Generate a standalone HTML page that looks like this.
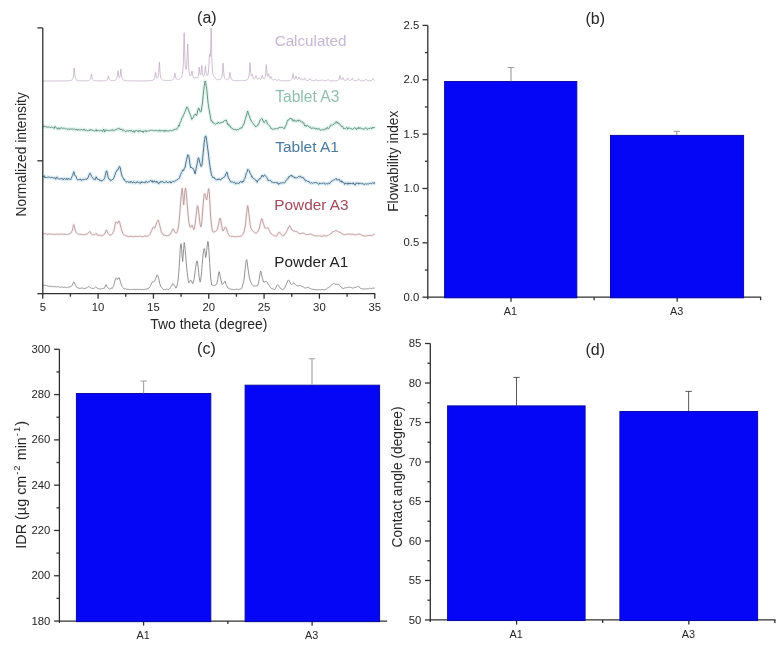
<!DOCTYPE html>
<html lang="en"><head><meta charset="utf-8"><title>Figure</title>
<style>html,body{margin:0;padding:0;background:#fff}body{width:780px;height:647px;overflow:hidden}</style>
</head><body>
<svg width="780" height="647" viewBox="0 0 780 647" style="display:block;font-family:'Liberation Sans',Arial,sans-serif">
<rect width="780" height="647" fill="#ffffff"/>
<g id="panel-a">
<path d="M42.70,125.96 L43.20,126.77 L43.70,126.70 L44.20,125.87 L44.70,126.73 L45.20,127.02 L45.70,126.52 L46.20,126.96 L46.70,127.15 L47.20,127.14 L47.70,127.07 L48.20,127.34 L48.70,126.87 L49.20,126.97 L49.70,126.99 L50.20,127.53 L50.70,127.52 L51.20,127.30 L51.70,127.05 L52.20,127.27 L52.70,127.56 L53.20,127.52 L53.70,128.30 L54.20,128.52 L54.70,126.66 L55.20,126.37 L55.70,127.44 L56.20,127.71 L56.70,128.02 L57.20,128.20 L57.70,129.20 L58.20,128.01 L58.70,127.77 L59.20,129.17 L59.70,129.01 L60.20,128.78 L60.70,128.24 L61.20,127.48 L61.70,128.21 L62.20,128.58 L62.70,127.95 L63.20,128.00 L63.70,128.45 L64.20,128.18 L64.70,128.48 L65.20,128.78 L65.70,128.84 L66.20,128.59 L66.70,129.08 L67.20,129.49 L67.70,129.30 L68.20,128.66 L68.70,129.25 L69.20,128.98 L69.70,129.46 L70.20,128.80 L70.70,129.44 L71.20,129.41 L71.70,128.65 L72.20,128.90 L72.70,129.31 L73.20,129.53 L73.70,128.98 L74.20,128.70 L74.70,129.36 L75.20,129.32 L75.70,129.57 L76.20,130.00 L76.70,128.94 L77.20,129.44 L77.70,130.33 L78.20,129.80 L78.70,129.27 L79.20,129.97 L79.70,130.07 L80.20,130.32 L80.70,129.85 L81.20,129.07 L81.70,129.55 L82.20,129.69 L82.70,130.26 L83.20,130.24 L83.70,129.24 L84.20,129.12 L84.70,130.27 L85.20,130.61 L85.70,129.93 L86.20,130.01 L86.70,130.38 L87.20,130.51 L87.70,130.74 L88.20,130.53 L88.70,130.25 L89.20,130.12 L89.70,130.76 L90.20,129.39 L90.70,129.81 L91.20,130.34 L91.70,129.66 L92.20,130.27 L92.70,130.15 L93.20,130.73 L93.70,130.56 L94.20,130.78 L94.70,131.23 L95.20,130.94 L95.70,130.16 L96.20,129.60 L96.70,131.12 L97.20,130.86 L97.70,130.21 L98.20,130.52 L98.70,130.52 L99.20,130.98 L99.70,130.79 L100.20,130.61 L100.70,130.25 L101.20,130.69 L101.70,130.18 L102.20,130.73 L102.70,131.50 L103.20,130.14 L103.70,129.06 L104.20,130.42 L104.70,132.00 L105.20,130.61 L105.70,129.77 L106.20,130.64 L106.70,130.30 L107.20,130.18 L107.70,130.32 L108.20,130.80 L108.70,130.50 L109.20,130.66 L109.70,130.57 L110.20,130.14 L110.70,130.25 L111.20,130.01 L111.70,130.32 L112.20,129.89 L112.70,129.62 L113.20,130.82 L113.70,130.50 L114.20,130.11 L114.70,130.30 L115.20,129.85 L115.70,129.59 L116.20,129.75 L116.70,129.57 L117.20,128.59 L117.70,129.12 L118.20,128.69 L118.70,128.16 L119.20,128.24 L119.70,128.69 L120.20,130.01 L120.70,129.25 L121.20,129.58 L121.70,128.88 L122.20,129.62 L122.70,130.61 L123.20,130.34 L123.70,130.02 L124.20,130.48 L124.70,130.99 L125.20,131.16 L125.70,131.89 L126.20,131.34 L126.70,130.65 L127.20,130.77 L127.70,130.93 L128.20,131.05 L128.70,131.03 L129.20,131.12 L129.70,130.25 L130.20,131.15 L130.70,130.96 L131.20,130.39 L131.70,131.19 L132.20,131.90 L132.70,131.64 L133.20,131.31 L133.70,130.71 L134.20,132.40 L134.70,132.18 L135.20,130.77 L135.70,130.56 L136.20,131.07 L136.70,130.42 L137.20,130.96 L137.70,131.00 L138.20,131.72 L138.70,131.92 L139.20,130.04 L139.70,130.68 L140.20,130.40 L140.70,131.43 L141.20,131.50 L141.70,131.50 L142.20,130.77 L142.70,131.89 L143.20,132.56 L143.70,131.05 L144.20,131.14 L144.70,130.90 L145.20,131.01 L145.70,130.51 L146.20,131.81 L146.70,131.01 L147.20,130.76 L147.70,131.28 L148.20,130.85 L148.70,130.81 L149.20,130.71 L149.70,130.83 L150.20,130.36 L150.70,130.36 L151.20,130.41 L151.70,130.23 L152.20,130.37 L152.70,130.31 L153.20,130.85 L153.70,130.62 L154.20,130.61 L154.70,130.49 L155.20,130.54 L155.70,130.25 L156.20,131.01 L156.70,130.53 L157.20,130.40 L157.70,131.03 L158.20,131.27 L158.70,130.88 L159.20,129.91 L159.70,130.81 L160.20,131.21 L160.70,130.35 L161.20,131.10 L161.70,130.80 L162.20,130.30 L162.70,130.82 L163.20,130.93 L163.70,131.07 L164.20,130.24 L164.70,131.58 L165.20,131.06 L165.70,130.10 L166.20,130.99 L166.70,130.92 L167.20,131.05 L167.70,130.83 L168.20,130.81 L168.70,130.99 L169.20,130.52 L169.70,131.00 L170.20,130.67 L170.70,130.20 L171.20,130.54 L171.70,130.87 L172.20,130.55 L172.70,130.03 L173.20,130.55 L173.70,129.53 L174.20,129.27 L174.70,129.78 L175.20,129.09 L175.70,129.27 L176.20,129.25 L176.70,129.43 L177.20,128.37 L177.70,127.54 L178.20,127.22 L178.70,125.02 L179.20,126.18 L179.70,124.35 L180.20,122.38 L180.70,121.89 L181.20,120.48 L181.70,118.24 L182.20,117.95 L182.70,117.43 L183.20,115.72 L183.70,114.46 L184.20,113.82 L184.70,112.20 L185.20,111.33 L185.70,110.16 L186.20,108.49 L186.70,107.10 L187.20,107.21 L187.70,107.53 L188.20,109.36 L188.70,110.66 L189.20,112.20 L189.70,113.19 L190.20,114.50 L190.70,115.50 L191.20,117.40 L191.70,119.30 L192.20,118.99 L192.70,118.16 L193.20,117.42 L193.70,116.27 L194.20,115.22 L194.70,114.66 L195.20,113.96 L195.70,114.99 L196.20,115.63 L196.70,115.25 L197.20,113.60 L197.70,110.48 L198.20,109.07 L198.70,108.07 L199.20,108.51 L199.70,110.16 L200.20,111.78 L200.70,111.95 L201.20,111.44 L201.70,107.77 L202.20,105.10 L202.70,100.84 L203.20,95.21 L203.70,90.22 L204.20,86.24 L204.70,82.58 L205.20,80.99 L205.70,82.51 L206.20,85.85 L206.70,89.05 L207.20,94.05 L207.70,99.44 L208.20,103.68 L208.70,107.39 L209.20,109.66 L209.70,113.03 L210.20,115.63 L210.70,118.35 L211.20,121.13 L211.70,120.51 L212.20,121.72 L212.70,122.12 L213.20,123.13 L213.70,122.83 L214.20,123.07 L214.70,123.76 L215.20,124.25 L215.70,124.14 L216.20,123.60 L216.70,123.35 L217.20,123.79 L217.70,123.29 L218.20,122.02 L218.70,122.87 L219.20,123.14 L219.70,123.27 L220.20,122.74 L220.70,123.05 L221.20,122.27 L221.70,122.54 L222.20,122.10 L222.70,122.19 L223.20,122.31 L223.70,121.21 L224.20,120.79 L224.70,120.52 L225.20,120.75 L225.70,120.59 L226.20,119.90 L226.70,121.25 L227.20,122.87 L227.70,124.70 L228.20,123.87 L228.70,124.38 L229.20,126.21 L229.70,125.86 L230.20,125.93 L230.70,127.25 L231.20,128.18 L231.70,127.77 L232.20,128.35 L232.70,128.68 L233.20,129.57 L233.70,129.33 L234.20,129.73 L234.70,129.15 L235.20,129.25 L235.70,129.50 L236.20,130.15 L236.70,130.09 L237.20,129.25 L237.70,129.61 L238.20,129.84 L238.70,129.29 L239.20,128.90 L239.70,128.75 L240.20,127.84 L240.70,128.27 L241.20,128.38 L241.70,127.47 L242.20,127.60 L242.70,126.20 L243.20,125.12 L243.70,124.00 L244.20,123.78 L244.70,120.97 L245.20,119.47 L245.70,118.11 L246.20,116.16 L246.70,115.00 L247.20,112.73 L247.70,111.06 L248.20,112.97 L248.70,114.08 L249.20,115.79 L249.70,116.79 L250.20,118.82 L250.70,120.19 L251.20,120.30 L251.70,121.63 L252.20,122.35 L252.70,122.79 L253.20,123.51 L253.70,124.05 L254.20,125.01 L254.70,125.68 L255.20,125.91 L255.70,126.86 L256.20,126.36 L256.70,126.14 L257.20,125.76 L257.70,125.55 L258.20,123.98 L258.70,123.97 L259.20,122.73 L259.70,121.20 L260.20,119.88 L260.70,119.57 L261.20,119.04 L261.70,118.33 L262.20,118.72 L262.70,120.00 L263.20,121.01 L263.70,122.39 L264.20,122.77 L264.70,122.13 L265.20,121.23 L265.70,120.34 L266.20,120.40 L266.70,121.51 L267.20,123.31 L267.70,124.12 L268.20,124.36 L268.70,125.03 L269.20,125.53 L269.70,125.94 L270.20,126.79 L270.70,127.60 L271.20,128.84 L271.70,128.44 L272.20,128.86 L272.70,129.43 L273.20,128.77 L273.70,129.28 L274.20,129.22 L274.70,128.54 L275.20,128.72 L275.70,128.78 L276.20,128.64 L276.70,128.63 L277.20,128.83 L277.70,129.05 L278.20,128.33 L278.70,128.22 L279.20,127.26 L279.70,127.44 L280.20,127.63 L280.70,127.25 L281.20,127.19 L281.70,127.51 L282.20,127.18 L282.70,127.41 L283.20,128.09 L283.70,128.60 L284.20,128.20 L284.70,128.46 L285.20,126.59 L285.70,125.56 L286.20,124.96 L286.70,123.25 L287.20,121.51 L287.70,120.21 L288.20,120.07 L288.70,120.13 L289.20,119.31 L289.70,118.71 L290.20,118.37 L290.70,118.97 L291.20,118.22 L291.70,119.33 L292.20,120.10 L292.70,119.60 L293.20,121.29 L293.70,120.40 L294.20,120.00 L294.70,120.12 L295.20,121.31 L295.70,120.77 L296.20,121.09 L296.70,121.28 L297.20,121.00 L297.70,120.06 L298.20,120.04 L298.70,121.32 L299.20,120.36 L299.70,120.12 L300.20,120.71 L300.70,121.55 L301.20,121.70 L301.70,122.10 L302.20,121.56 L302.70,122.54 L303.20,123.23 L303.70,122.66 L304.20,124.42 L304.70,126.05 L305.20,125.23 L305.70,125.48 L306.20,126.61 L306.70,125.68 L307.20,125.05 L307.70,125.48 L308.20,126.15 L308.70,126.44 L309.20,127.18 L309.70,127.38 L310.20,126.68 L310.70,127.41 L311.20,128.53 L311.70,128.56 L312.20,128.42 L312.70,127.99 L313.20,128.37 L313.70,127.69 L314.20,128.27 L314.70,128.31 L315.20,128.88 L315.70,128.93 L316.20,128.16 L316.70,128.59 L317.20,129.52 L317.70,128.69 L318.20,128.63 L318.70,128.76 L319.20,128.46 L319.70,129.63 L320.20,130.36 L320.70,130.23 L321.20,129.88 L321.70,129.62 L322.20,129.67 L322.70,129.18 L323.20,129.70 L323.70,129.98 L324.20,129.82 L324.70,128.92 L325.20,128.77 L325.70,128.62 L326.20,129.40 L326.70,128.82 L327.20,127.29 L327.70,127.82 L328.20,128.80 L328.70,128.27 L329.20,127.88 L329.70,127.21 L330.20,125.70 L330.70,125.01 L331.20,124.93 L331.70,125.21 L332.20,125.27 L332.70,125.20 L333.20,124.44 L333.70,124.54 L334.20,123.83 L334.70,123.04 L335.20,123.47 L335.70,122.74 L336.20,121.47 L336.70,122.07 L337.20,123.22 L337.70,122.13 L338.20,123.11 L338.70,123.94 L339.20,123.71 L339.70,123.78 L340.20,124.60 L340.70,125.12 L341.20,126.41 L341.70,126.74 L342.20,126.00 L342.70,126.36 L343.20,127.63 L343.70,128.82 L344.20,128.49 L344.70,128.24 L345.20,129.05 L345.70,128.47 L346.20,127.99 L346.70,127.43 L347.20,127.69 L347.70,129.25 L348.20,128.02 L348.70,128.04 L349.20,127.64 L349.70,128.14 L350.20,128.85 L350.70,128.44 L351.20,128.71 L351.70,128.91 L352.20,128.77 L352.70,129.33 L353.20,129.10 L353.70,128.34 L354.20,127.89 L354.70,127.69 L355.20,128.27 L355.70,128.09 L356.20,129.41 L356.70,129.54 L357.20,128.30 L357.70,127.81 L358.20,128.78 L358.70,127.40 L359.20,127.45 L359.70,128.52 L360.20,127.98 L360.70,127.94 L361.20,128.20 L361.70,128.82 L362.20,128.82 L362.70,128.90 L363.20,129.10 L363.70,128.91 L364.20,129.38 L364.70,128.72 L365.20,128.04 L365.70,127.76 L366.20,127.80 L366.70,128.38 L367.20,129.40 L367.70,129.29 L368.20,128.72 L368.70,128.29 L369.20,128.40 L369.70,128.50 L370.20,128.36 L370.70,127.81 L371.20,128.05 L371.70,128.91 L372.20,127.54 L372.70,127.79 L373.20,127.15 L373.70,127.85 L374.20,127.75 L374.70,126.81" fill="none" stroke="#d3f1e6" stroke-width="3.4" stroke-linejoin="round" opacity="0.7"/>
<path d="M42.70,176.77 L43.20,176.70 L43.70,176.64 L44.20,175.67 L44.70,177.41 L45.20,177.96 L45.70,177.13 L46.20,177.42 L46.70,177.43 L47.20,176.95 L47.70,177.59 L48.20,177.29 L48.70,177.06 L49.20,176.87 L49.70,177.44 L50.20,177.46 L50.70,177.72 L51.20,177.33 L51.70,177.52 L52.20,177.22 L52.70,177.95 L53.20,178.04 L53.70,178.05 L54.20,178.19 L54.70,177.56 L55.20,178.24 L55.70,179.31 L56.20,177.78 L56.70,177.06 L57.20,177.21 L57.70,178.49 L58.20,178.65 L58.70,179.04 L59.20,179.11 L59.70,178.84 L60.20,178.83 L60.70,178.67 L61.20,179.16 L61.70,178.42 L62.20,178.42 L62.70,178.94 L63.20,179.89 L63.70,178.94 L64.20,178.29 L64.70,178.50 L65.20,179.37 L65.70,179.07 L66.20,179.59 L66.70,178.28 L67.20,179.11 L67.70,179.63 L68.20,178.34 L68.70,178.58 L69.20,179.36 L69.70,178.93 L70.20,179.07 L70.70,179.68 L71.20,178.49 L71.70,177.23 L72.20,176.20 L72.70,175.53 L73.20,173.27 L73.70,171.72 L74.20,172.39 L74.70,174.76 L75.20,175.88 L75.70,176.22 L76.20,176.46 L76.70,178.72 L77.20,179.33 L77.70,180.04 L78.20,179.72 L78.70,179.18 L79.20,179.73 L79.70,179.75 L80.20,179.06 L80.70,179.00 L81.20,180.40 L81.70,180.22 L82.20,179.96 L82.70,179.62 L83.20,179.26 L83.70,179.96 L84.20,179.76 L84.70,179.21 L85.20,179.36 L85.70,178.96 L86.20,179.11 L86.70,179.46 L87.20,178.27 L87.70,178.53 L88.20,177.10 L88.70,176.05 L89.20,174.65 L89.70,173.43 L90.20,173.21 L90.70,174.02 L91.20,175.37 L91.70,176.49 L92.20,177.29 L92.70,177.66 L93.20,178.66 L93.70,179.33 L94.20,179.58 L94.70,179.29 L95.20,179.74 L95.70,178.11 L96.20,176.74 L96.70,178.25 L97.20,178.25 L97.70,179.37 L98.20,179.26 L98.70,179.94 L99.20,179.36 L99.70,180.52 L100.20,180.60 L100.70,179.97 L101.20,181.11 L101.70,181.16 L102.20,180.57 L102.70,179.98 L103.20,180.05 L103.70,179.49 L104.20,178.85 L104.70,177.81 L105.20,175.71 L105.70,173.30 L106.20,171.44 L106.70,170.82 L107.20,172.75 L107.70,175.39 L108.20,177.26 L108.70,178.77 L109.20,178.70 L109.70,179.54 L110.20,179.55 L110.70,180.73 L111.20,180.28 L111.70,180.20 L112.20,179.63 L112.70,179.35 L113.20,179.30 L113.70,178.20 L114.20,177.28 L114.70,175.30 L115.20,174.43 L115.70,172.32 L116.20,171.80 L116.70,170.50 L117.20,170.58 L117.70,169.47 L118.20,169.50 L118.70,168.00 L119.20,166.63 L119.70,166.56 L120.20,167.82 L120.70,170.37 L121.20,172.93 L121.70,174.85 L122.20,176.35 L122.70,177.14 L123.20,178.16 L123.70,179.30 L124.20,179.04 L124.70,180.54 L125.20,180.95 L125.70,181.03 L126.20,181.88 L126.70,182.19 L127.20,182.08 L127.70,181.50 L128.20,181.98 L128.70,182.31 L129.20,181.75 L129.70,182.51 L130.20,182.67 L130.70,181.36 L131.20,181.95 L131.70,181.70 L132.20,182.65 L132.70,182.99 L133.20,181.98 L133.70,181.72 L134.20,182.27 L134.70,182.30 L135.20,183.11 L135.70,183.08 L136.20,182.41 L136.70,182.63 L137.20,181.50 L137.70,182.15 L138.20,182.90 L138.70,182.48 L139.20,182.01 L139.70,182.54 L140.20,183.49 L140.70,182.89 L141.20,181.88 L141.70,182.90 L142.20,181.75 L142.70,182.28 L143.20,182.21 L143.70,182.75 L144.20,182.16 L144.70,182.89 L145.20,182.81 L145.70,181.56 L146.20,180.97 L146.70,181.67 L147.20,182.70 L147.70,182.33 L148.20,181.94 L148.70,181.63 L149.20,181.80 L149.70,181.49 L150.20,181.06 L150.70,180.20 L151.20,181.01 L151.70,181.68 L152.20,180.63 L152.70,182.17 L153.20,182.33 L153.70,181.54 L154.20,180.69 L154.70,181.78 L155.20,182.32 L155.70,181.80 L156.20,181.03 L156.70,182.31 L157.20,182.08 L157.70,181.83 L158.20,183.54 L158.70,183.87 L159.20,183.16 L159.70,182.24 L160.20,182.53 L160.70,181.31 L161.20,181.93 L161.70,181.99 L162.20,181.57 L162.70,181.33 L163.20,182.33 L163.70,182.54 L164.20,182.49 L164.70,182.85 L165.20,182.15 L165.70,181.61 L166.20,181.26 L166.70,181.86 L167.20,182.69 L167.70,182.45 L168.20,182.65 L168.70,181.88 L169.20,181.86 L169.70,181.83 L170.20,181.51 L170.70,182.95 L171.20,183.04 L171.70,182.01 L172.20,181.65 L172.70,181.95 L173.20,181.32 L173.70,181.88 L174.20,181.27 L174.70,181.24 L175.20,180.95 L175.70,180.89 L176.20,180.32 L176.70,179.73 L177.20,179.62 L177.70,179.47 L178.20,179.12 L178.70,178.56 L179.20,178.40 L179.70,177.31 L180.20,175.61 L180.70,174.65 L181.20,172.81 L181.70,172.38 L182.20,171.48 L182.70,169.88 L183.20,170.27 L183.70,170.49 L184.20,168.43 L184.70,168.13 L185.20,167.04 L185.70,163.92 L186.20,161.53 L186.70,159.27 L187.20,157.12 L187.70,154.87 L188.20,154.97 L188.70,155.43 L189.20,158.86 L189.70,161.90 L190.20,165.76 L190.70,167.87 L191.20,167.24 L191.70,167.44 L192.20,168.17 L192.70,168.68 L193.20,168.47 L193.70,169.56 L194.20,170.81 L194.70,173.28 L195.20,173.79 L195.70,171.11 L196.20,168.37 L196.70,165.53 L197.20,163.68 L197.70,160.59 L198.20,157.96 L198.70,157.89 L199.20,159.85 L199.70,162.04 L200.20,163.63 L200.70,165.68 L201.20,166.57 L201.70,165.92 L202.20,163.48 L202.70,157.78 L203.20,152.81 L203.70,147.68 L204.20,142.59 L204.70,139.52 L205.20,136.28 L205.70,135.98 L206.20,137.16 L206.70,140.55 L207.20,144.58 L207.70,148.56 L208.20,152.02 L208.70,156.35 L209.20,161.09 L209.70,164.46 L210.20,167.79 L210.70,170.52 L211.20,173.50 L211.70,175.42 L212.20,176.16 L212.70,177.77 L213.20,177.75 L213.70,177.42 L214.20,177.32 L214.70,178.78 L215.20,178.86 L215.70,179.28 L216.20,179.32 L216.70,179.89 L217.20,180.02 L217.70,179.18 L218.20,179.23 L218.70,179.79 L219.20,178.80 L219.70,179.66 L220.20,180.02 L220.70,179.76 L221.20,178.99 L221.70,178.85 L222.20,178.04 L222.70,178.11 L223.20,177.77 L223.70,177.69 L224.20,177.03 L224.70,176.40 L225.20,176.02 L225.70,173.96 L226.20,173.55 L226.70,172.22 L227.20,172.53 L227.70,175.20 L228.20,177.18 L228.70,178.63 L229.20,178.84 L229.70,180.12 L230.20,180.99 L230.70,181.91 L231.20,181.75 L231.70,182.07 L232.20,181.68 L232.70,181.99 L233.20,182.21 L233.70,182.89 L234.20,182.41 L234.70,182.25 L235.20,183.06 L235.70,183.99 L236.20,183.55 L236.70,183.21 L237.20,182.83 L237.70,183.34 L238.20,183.27 L238.70,183.66 L239.20,183.09 L239.70,182.06 L240.20,181.88 L240.70,181.65 L241.20,181.32 L241.70,182.40 L242.20,182.51 L242.70,181.19 L243.20,182.00 L243.70,181.19 L244.20,179.34 L244.70,178.66 L245.20,177.54 L245.70,175.72 L246.20,173.36 L246.70,172.57 L247.20,171.91 L247.70,169.42 L248.20,169.62 L248.70,170.23 L249.20,170.71 L249.70,172.22 L250.20,173.31 L250.70,174.02 L251.20,175.14 L251.70,176.92 L252.20,176.62 L252.70,177.60 L253.20,178.54 L253.70,178.61 L254.20,179.01 L254.70,179.00 L255.20,179.48 L255.70,180.38 L256.20,180.98 L256.70,180.59 L257.20,182.33 L257.70,181.07 L258.20,180.26 L258.70,179.67 L259.20,178.92 L259.70,179.17 L260.20,178.06 L260.70,177.91 L261.20,177.44 L261.70,175.67 L262.20,175.83 L262.70,175.28 L263.20,176.71 L263.70,175.97 L264.20,175.27 L264.70,174.91 L265.20,175.39 L265.70,176.39 L266.20,176.93 L266.70,177.34 L267.20,178.14 L267.70,179.13 L268.20,180.71 L268.70,180.01 L269.20,180.30 L269.70,180.60 L270.20,180.49 L270.70,180.71 L271.20,181.13 L271.70,182.18 L272.20,182.18 L272.70,181.94 L273.20,182.53 L273.70,182.68 L274.20,182.44 L274.70,182.71 L275.20,182.30 L275.70,182.85 L276.20,183.12 L276.70,182.70 L277.20,182.17 L277.70,183.42 L278.20,183.29 L278.70,184.51 L279.20,183.27 L279.70,183.29 L280.20,182.95 L280.70,183.02 L281.20,183.42 L281.70,182.66 L282.20,182.62 L282.70,182.81 L283.20,182.74 L283.70,182.86 L284.20,183.04 L284.70,182.89 L285.20,182.24 L285.70,181.31 L286.20,180.18 L286.70,179.57 L287.20,179.14 L287.70,179.10 L288.20,178.10 L288.70,176.81 L289.20,177.09 L289.70,176.29 L290.20,175.65 L290.70,175.74 L291.20,176.25 L291.70,175.15 L292.20,175.51 L292.70,176.72 L293.20,176.96 L293.70,176.74 L294.20,176.91 L294.70,178.03 L295.20,177.59 L295.70,177.88 L296.20,178.20 L296.70,177.63 L297.20,177.82 L297.70,177.39 L298.20,176.88 L298.70,176.33 L299.20,177.05 L299.70,176.78 L300.20,176.47 L300.70,176.20 L301.20,177.63 L301.70,177.79 L302.20,177.45 L302.70,177.46 L303.20,177.42 L303.70,178.61 L304.20,179.45 L304.70,179.10 L305.20,180.52 L305.70,181.24 L306.20,180.58 L306.70,180.66 L307.20,181.02 L307.70,181.52 L308.20,181.65 L308.70,181.00 L309.20,182.40 L309.70,182.57 L310.20,182.95 L310.70,183.26 L311.20,182.65 L311.70,182.75 L312.20,183.17 L312.70,183.36 L313.20,182.99 L313.70,182.65 L314.20,182.94 L314.70,182.71 L315.20,182.72 L315.70,182.09 L316.20,182.91 L316.70,182.83 L317.20,182.89 L317.70,183.29 L318.20,183.62 L318.70,184.53 L319.20,184.04 L319.70,182.93 L320.20,183.42 L320.70,183.40 L321.20,183.78 L321.70,183.46 L322.20,183.26 L322.70,183.37 L323.20,183.37 L323.70,182.75 L324.20,183.10 L324.70,183.66 L325.20,184.35 L325.70,183.75 L326.20,183.29 L326.70,183.60 L327.20,183.61 L327.70,183.99 L328.20,183.57 L328.70,182.95 L329.20,183.40 L329.70,183.66 L330.20,182.56 L330.70,182.32 L331.20,181.30 L331.70,181.27 L332.20,180.88 L332.70,180.70 L333.20,180.32 L333.70,180.09 L334.20,179.82 L334.70,179.77 L335.20,179.44 L335.70,178.80 L336.20,178.25 L336.70,179.49 L337.20,180.29 L337.70,179.65 L338.20,180.05 L338.70,179.44 L339.20,179.24 L339.70,180.13 L340.20,181.51 L340.70,180.86 L341.20,180.72 L341.70,182.24 L342.20,181.25 L342.70,182.09 L343.20,182.79 L343.70,182.67 L344.20,182.94 L344.70,184.42 L345.20,183.20 L345.70,183.03 L346.20,183.38 L346.70,183.29 L347.20,182.96 L347.70,184.33 L348.20,184.22 L348.70,182.95 L349.20,183.06 L349.70,183.80 L350.20,184.00 L350.70,183.04 L351.20,183.31 L351.70,183.72 L352.20,183.82 L352.70,183.82 L353.20,182.67 L353.70,184.03 L354.20,183.92 L354.70,184.37 L355.20,185.20 L355.70,183.89 L356.20,182.75 L356.70,183.60 L357.20,183.53 L357.70,183.24 L358.20,182.95 L358.70,184.25 L359.20,183.79 L359.70,182.95 L360.20,183.29 L360.70,183.17 L361.20,183.72 L361.70,183.72 L362.20,183.29 L362.70,183.99 L363.20,183.69 L363.70,184.12 L364.20,184.66 L364.70,183.95 L365.20,183.47 L365.70,183.83 L366.20,184.33 L366.70,184.01 L367.20,183.88 L367.70,183.81 L368.20,183.93 L368.70,184.12 L369.20,183.47 L369.70,183.26 L370.20,183.51 L370.70,183.19 L371.20,183.38 L371.70,183.66 L372.20,183.37 L372.70,182.86 L373.20,182.53 L373.70,183.62 L374.20,183.54 L374.70,182.22" fill="none" stroke="#cfe8f6" stroke-width="3.4" stroke-linejoin="round" opacity="0.75"/>
<path d="M42.70,234.24 L43.20,233.66 L43.70,233.90 L44.20,233.95 L44.70,233.90 L45.20,233.97 L45.70,233.64 L46.20,233.86 L46.70,233.88 L47.20,234.68 L47.70,234.40 L48.20,234.05 L48.70,234.03 L49.20,233.96 L49.70,233.86 L50.20,233.97 L50.70,234.21 L51.20,234.14 L51.70,234.33 L52.20,234.20 L52.70,234.16 L53.20,234.49 L53.70,234.42 L54.20,234.13 L54.70,234.12 L55.20,234.30 L55.70,234.64 L56.20,234.32 L56.70,234.15 L57.20,234.41 L57.70,234.14 L58.20,234.11 L58.70,234.40 L59.20,234.44 L59.70,234.32 L60.20,234.40 L60.70,233.76 L61.20,234.25 L61.70,234.17 L62.20,233.87 L62.70,234.21 L63.20,234.45 L63.70,234.26 L64.20,234.04 L64.70,234.22 L65.20,234.29 L65.70,234.58 L66.20,234.56 L66.70,234.38 L67.20,234.49 L67.70,234.26 L68.20,233.95 L68.70,234.11 L69.20,234.14 L69.70,233.88 L70.20,233.55 L70.70,233.29 L71.20,232.14 L71.70,231.68 L72.20,230.87 L72.70,228.73 L73.20,226.31 L73.70,224.57 L74.20,225.62 L74.70,227.63 L75.20,229.89 L75.70,231.43 L76.20,232.62 L76.70,232.78 L77.20,233.37 L77.70,233.89 L78.20,233.91 L78.70,234.39 L79.20,234.12 L79.70,234.29 L80.20,234.21 L80.70,234.64 L81.20,234.59 L81.70,234.42 L82.20,234.13 L82.70,234.70 L83.20,234.78 L83.70,234.69 L84.20,234.76 L84.70,234.62 L85.20,234.34 L85.70,234.20 L86.20,234.15 L86.70,234.43 L87.20,233.78 L87.70,233.40 L88.20,233.16 L88.70,232.77 L89.20,232.19 L89.70,231.50 L90.20,231.64 L90.70,232.73 L91.20,233.74 L91.70,234.24 L92.20,234.55 L92.70,234.70 L93.20,234.83 L93.70,234.72 L94.20,234.78 L94.70,234.40 L95.20,234.24 L95.70,233.72 L96.20,233.50 L96.70,233.82 L97.20,234.86 L97.70,235.22 L98.20,235.42 L98.70,234.97 L99.20,235.23 L99.70,235.43 L100.20,235.66 L100.70,235.18 L101.20,235.62 L101.70,235.84 L102.20,235.32 L102.70,235.14 L103.20,235.11 L103.70,234.93 L104.20,234.51 L104.70,234.09 L105.20,232.94 L105.70,231.53 L106.20,230.10 L106.70,230.21 L107.20,231.39 L107.70,232.95 L108.20,233.31 L108.70,233.95 L109.20,234.44 L109.70,235.18 L110.20,235.24 L110.70,234.91 L111.20,234.65 L111.70,234.61 L112.20,234.14 L112.70,233.24 L113.20,232.33 L113.70,231.43 L114.20,229.43 L114.70,226.75 L115.20,224.22 L115.70,222.54 L116.20,221.84 L116.70,222.43 L117.20,223.22 L117.70,223.33 L118.20,222.25 L118.70,221.17 L119.20,221.01 L119.70,222.53 L120.20,224.49 L120.70,226.28 L121.20,228.52 L121.70,230.47 L122.20,231.78 L122.70,233.00 L123.20,233.65 L123.70,234.25 L124.20,234.95 L124.70,235.31 L125.20,235.77 L125.70,235.33 L126.20,235.82 L126.70,235.95 L127.20,236.09 L127.70,236.36 L128.20,236.49 L128.70,236.52 L129.20,236.36 L129.70,236.60 L130.20,236.36 L130.70,236.25 L131.20,236.46 L131.70,236.28 L132.20,236.73 L132.70,236.73 L133.20,236.88 L133.70,236.54 L134.20,236.30 L134.70,236.38 L135.20,236.55 L135.70,236.33 L136.20,236.42 L136.70,236.42 L137.20,236.72 L137.70,236.40 L138.20,236.56 L138.70,236.35 L139.20,236.15 L139.70,236.18 L140.20,236.10 L140.70,236.32 L141.20,236.60 L141.70,236.50 L142.20,236.51 L142.70,236.75 L143.20,236.55 L143.70,236.41 L144.20,236.30 L144.70,235.99 L145.20,236.34 L145.70,236.02 L146.20,236.28 L146.70,236.28 L147.20,236.35 L147.70,236.05 L148.20,235.61 L148.70,235.56 L149.20,235.17 L149.70,234.55 L150.20,233.72 L150.70,232.68 L151.20,231.64 L151.70,230.43 L152.20,229.19 L152.70,227.69 L153.20,227.32 L153.70,227.30 L154.20,227.82 L154.70,228.14 L155.20,227.05 L155.70,225.75 L156.20,224.11 L156.70,222.56 L157.20,221.61 L157.70,220.56 L158.20,219.95 L158.70,221.27 L159.20,223.40 L159.70,225.36 L160.20,227.11 L160.70,229.48 L161.20,231.45 L161.70,232.21 L162.20,233.06 L162.70,233.99 L163.20,234.55 L163.70,235.38 L164.20,235.43 L164.70,235.17 L165.20,235.21 L165.70,235.44 L166.20,236.02 L166.70,235.74 L167.20,235.61 L167.70,235.65 L168.20,235.46 L168.70,235.71 L169.20,235.12 L169.70,234.88 L170.20,234.51 L170.70,233.66 L171.20,232.17 L171.70,231.56 L172.20,230.27 L172.70,229.20 L173.20,228.90 L173.70,229.65 L174.20,230.98 L174.70,231.89 L175.20,232.51 L175.70,233.09 L176.20,233.24 L176.70,232.65 L177.20,231.72 L177.70,230.38 L178.20,227.96 L178.70,224.86 L179.20,220.63 L179.70,214.45 L180.20,207.95 L180.70,201.39 L181.20,195.30 L181.70,190.71 L182.20,188.26 L182.70,192.22 L183.20,199.20 L183.70,204.93 L184.20,199.99 L184.70,194.13 L185.20,188.65 L185.70,188.18 L186.20,192.08 L186.70,197.00 L187.20,204.01 L187.70,210.51 L188.20,215.84 L188.70,220.85 L189.20,223.57 L189.70,226.39 L190.20,227.33 L190.70,227.07 L191.20,226.38 L191.70,225.35 L192.20,225.12 L192.70,226.20 L193.20,228.17 L193.70,229.58 L194.20,229.16 L194.70,226.62 L195.20,223.31 L195.70,219.04 L196.20,214.73 L196.70,210.51 L197.20,206.72 L197.70,205.68 L198.20,208.11 L198.70,212.00 L199.20,216.23 L199.70,221.28 L200.20,224.76 L200.70,226.87 L201.20,226.36 L201.70,222.59 L202.20,217.93 L202.70,210.61 L203.20,203.90 L203.70,198.38 L204.20,194.05 L204.70,193.54 L205.20,194.88 L205.70,196.56 L206.20,199.11 L206.70,199.91 L207.20,197.44 L207.70,193.87 L208.20,190.41 L208.70,188.67 L209.20,191.63 L209.70,199.36 L210.20,208.33 L210.70,217.15 L211.20,222.04 L211.70,226.72 L212.20,229.36 L212.70,231.68 L213.20,232.29 L213.70,231.90 L214.20,232.13 L214.70,231.50 L215.20,231.24 L215.70,231.33 L216.20,230.87 L216.70,230.32 L217.20,229.66 L217.70,228.16 L218.20,225.74 L218.70,223.59 L219.20,220.72 L219.70,218.70 L220.20,218.05 L220.70,219.79 L221.20,223.03 L221.70,225.44 L222.20,228.23 L222.70,230.40 L223.20,230.97 L223.70,230.01 L224.20,229.05 L224.70,227.79 L225.20,227.05 L225.70,227.24 L226.20,227.77 L226.70,229.32 L227.20,230.94 L227.70,232.52 L228.20,233.86 L228.70,234.60 L229.20,235.44 L229.70,235.74 L230.20,236.01 L230.70,235.94 L231.20,236.45 L231.70,236.48 L232.20,236.34 L232.70,236.27 L233.20,236.32 L233.70,236.58 L234.20,236.46 L234.70,236.65 L235.20,236.67 L235.70,236.79 L236.20,236.76 L236.70,236.55 L237.20,236.11 L237.70,236.41 L238.20,236.68 L238.70,236.57 L239.20,236.54 L239.70,236.28 L240.20,236.10 L240.70,235.85 L241.20,236.09 L241.70,235.83 L242.20,235.37 L242.70,234.65 L243.20,233.75 L243.70,232.72 L244.20,231.02 L244.70,228.54 L245.20,226.10 L245.70,222.53 L246.20,217.16 L246.70,212.39 L247.20,207.98 L247.70,205.60 L248.20,207.79 L248.70,211.82 L249.20,216.09 L249.70,220.50 L250.20,224.97 L250.70,227.15 L251.20,228.59 L251.70,229.75 L252.20,230.18 L252.70,230.77 L253.20,231.38 L253.70,231.84 L254.20,232.05 L254.70,232.43 L255.20,232.99 L255.70,233.31 L256.20,233.09 L256.70,232.71 L257.20,232.24 L257.70,231.84 L258.20,230.85 L258.70,229.78 L259.20,228.92 L259.70,226.76 L260.20,224.13 L260.70,222.18 L261.20,220.25 L261.70,218.58 L262.20,219.12 L262.70,220.71 L263.20,222.97 L263.70,224.30 L264.20,225.81 L264.70,227.57 L265.20,228.29 L265.70,228.18 L266.20,228.05 L266.70,228.04 L267.20,227.81 L267.70,227.69 L268.20,228.37 L268.70,229.17 L269.20,230.27 L269.70,231.18 L270.20,232.32 L270.70,233.17 L271.20,233.84 L271.70,234.06 L272.20,234.35 L272.70,234.94 L273.20,235.13 L273.70,235.60 L274.20,235.93 L274.70,235.82 L275.20,235.92 L275.70,235.92 L276.20,236.00 L276.70,235.87 L277.20,234.89 L277.70,234.17 L278.20,232.94 L278.70,232.50 L279.20,232.32 L279.70,232.41 L280.20,233.42 L280.70,233.89 L281.20,234.52 L281.70,235.21 L282.20,235.41 L282.70,236.02 L283.20,236.25 L283.70,235.49 L284.20,234.78 L284.70,234.57 L285.20,233.99 L285.70,232.97 L286.20,232.19 L286.70,231.35 L287.20,230.33 L287.70,229.25 L288.20,227.97 L288.70,227.20 L289.20,226.27 L289.70,225.65 L290.20,226.27 L290.70,227.62 L291.20,228.65 L291.70,229.08 L292.20,230.19 L292.70,230.77 L293.20,231.13 L293.70,230.95 L294.20,230.91 L294.70,230.91 L295.20,231.30 L295.70,231.33 L296.20,231.35 L296.70,231.71 L297.20,231.93 L297.70,232.32 L298.20,232.65 L298.70,232.96 L299.20,233.60 L299.70,233.54 L300.20,233.66 L300.70,233.76 L301.20,233.85 L301.70,233.33 L302.20,233.01 L302.70,232.98 L303.20,233.12 L303.70,233.23 L304.20,233.38 L304.70,233.60 L305.20,234.12 L305.70,234.58 L306.20,234.56 L306.70,234.56 L307.20,234.67 L307.70,234.45 L308.20,234.42 L308.70,234.37 L309.20,234.35 L309.70,234.19 L310.20,233.81 L310.70,234.13 L311.20,234.48 L311.70,234.30 L312.20,234.53 L312.70,234.85 L313.20,235.24 L313.70,235.06 L314.20,235.66 L314.70,235.63 L315.20,235.94 L315.70,235.96 L316.20,235.87 L316.70,235.93 L317.20,236.17 L317.70,235.90 L318.20,235.86 L318.70,235.87 L319.20,235.62 L319.70,236.12 L320.20,236.22 L320.70,236.04 L321.20,236.23 L321.70,235.90 L322.20,235.91 L322.70,236.34 L323.20,236.33 L323.70,235.63 L324.20,235.16 L324.70,235.53 L325.20,236.13 L325.70,235.99 L326.20,235.91 L326.70,236.00 L327.20,235.60 L327.70,235.47 L328.20,235.41 L328.70,235.12 L329.20,234.81 L329.70,234.28 L330.20,234.05 L330.70,233.56 L331.20,233.45 L331.70,233.47 L332.20,232.54 L332.70,231.61 L333.20,231.51 L333.70,231.53 L334.20,231.45 L334.70,231.26 L335.20,230.74 L335.70,230.59 L336.20,231.09 L336.70,230.92 L337.20,231.33 L337.70,231.41 L338.20,231.67 L338.70,231.92 L339.20,232.14 L339.70,232.38 L340.20,232.28 L340.70,232.70 L341.20,233.09 L341.70,233.47 L342.20,234.00 L342.70,234.14 L343.20,234.26 L343.70,234.39 L344.20,234.47 L344.70,234.70 L345.20,234.45 L345.70,234.68 L346.20,234.62 L346.70,234.40 L347.20,234.09 L347.70,234.25 L348.20,234.37 L348.70,233.80 L349.20,234.09 L349.70,234.33 L350.20,234.03 L350.70,233.93 L351.20,234.36 L351.70,234.40 L352.20,234.05 L352.70,234.24 L353.20,234.42 L353.70,234.57 L354.20,234.29 L354.70,234.88 L355.20,234.93 L355.70,234.96 L356.20,234.84 L356.70,234.83 L357.20,234.48 L357.70,234.11 L358.20,234.11 L358.70,234.21 L359.20,233.85 L359.70,234.16 L360.20,234.35 L360.70,234.44 L361.20,235.11 L361.70,235.04 L362.20,235.44 L362.70,235.50 L363.20,235.76 L363.70,235.66 L364.20,235.71 L364.70,236.15 L365.20,236.11 L365.70,235.98 L366.20,235.84 L366.70,235.93 L367.20,235.58 L367.70,235.42 L368.20,235.58 L368.70,235.46 L369.20,235.37 L369.70,235.44 L370.20,235.41 L370.70,235.31 L371.20,235.60 L371.70,235.54 L372.20,235.44 L372.70,235.11 L373.20,234.82 L373.70,234.49 L374.20,234.52 L374.70,234.15" fill="none" stroke="#f7e4e6" stroke-width="2.6" stroke-linejoin="round" opacity="0.6"/>
<path d="M42.70,80.98 L42.95,80.98 L43.20,80.98 L43.45,80.98 L43.70,80.98 L43.95,80.98 L44.20,80.98 L44.45,80.98 L44.70,80.98 L44.95,80.98 L45.20,80.98 L45.45,80.98 L45.70,80.98 L45.95,80.98 L46.20,80.98 L46.45,80.98 L46.70,80.98 L46.95,80.98 L47.20,80.98 L47.45,80.98 L47.70,80.98 L47.95,80.98 L48.20,80.98 L48.45,80.98 L48.70,80.98 L48.95,80.97 L49.20,80.97 L49.45,80.97 L49.70,80.97 L49.95,80.97 L50.20,80.97 L50.45,80.97 L50.70,80.97 L50.95,80.97 L51.20,80.97 L51.45,80.97 L51.70,80.97 L51.95,80.97 L52.20,80.97 L52.45,80.97 L52.70,80.97 L52.95,80.97 L53.20,80.97 L53.45,80.97 L53.70,80.97 L53.95,80.97 L54.20,80.97 L54.45,80.97 L54.70,80.97 L54.95,80.96 L55.20,80.96 L55.45,80.96 L55.70,80.96 L55.95,80.96 L56.20,80.96 L56.45,80.96 L56.70,80.96 L56.95,80.96 L57.20,80.96 L57.45,80.96 L57.70,80.96 L57.95,80.96 L58.20,80.95 L58.45,80.95 L58.70,80.95 L58.95,80.95 L59.20,80.95 L59.45,80.95 L59.70,80.95 L59.95,80.95 L60.20,80.95 L60.45,80.94 L60.70,80.94 L60.95,80.94 L61.20,80.94 L61.45,80.94 L61.70,80.94 L61.95,80.93 L62.20,80.93 L62.45,80.93 L62.70,80.93 L62.95,80.92 L63.20,80.92 L63.45,80.92 L63.70,80.92 L63.95,80.91 L64.20,80.91 L64.45,80.91 L64.70,80.90 L64.95,80.90 L65.20,80.89 L65.45,80.89 L65.70,80.88 L65.95,80.88 L66.20,80.87 L66.45,80.86 L66.70,80.86 L66.95,80.85 L67.20,80.84 L67.45,80.83 L67.70,80.82 L67.95,80.80 L68.20,80.79 L68.45,80.77 L68.70,80.76 L68.95,80.73 L69.20,80.71 L69.45,80.69 L69.70,80.65 L69.95,80.62 L70.20,80.58 L70.45,80.53 L70.70,80.47 L70.95,80.40 L71.20,80.32 L71.45,80.21 L71.70,80.08 L71.95,79.91 L72.20,79.69 L72.45,79.40 L72.70,78.99 L72.95,78.39 L73.20,77.47 L73.45,75.99 L73.70,73.53 L73.95,70.09 L74.20,68.00 L74.45,70.09 L74.70,73.53 L74.95,75.98 L75.20,77.47 L75.45,78.39 L75.70,78.98 L75.95,79.39 L76.20,79.68 L76.45,79.90 L76.70,80.07 L76.95,80.20 L77.20,80.30 L77.45,80.39 L77.70,80.45 L77.95,80.51 L78.20,80.56 L78.45,80.60 L78.70,80.63 L78.95,80.66 L79.20,80.69 L79.45,80.71 L79.70,80.73 L79.95,80.74 L80.20,80.76 L80.45,80.77 L80.70,80.78 L80.95,80.79 L81.20,80.80 L81.45,80.80 L81.70,80.81 L81.95,80.81 L82.20,80.82 L82.45,80.82 L82.70,80.82 L82.95,80.83 L83.20,80.83 L83.45,80.83 L83.70,80.83 L83.95,80.83 L84.20,80.82 L84.45,80.82 L84.70,80.82 L84.95,80.81 L85.20,80.81 L85.45,80.80 L85.70,80.80 L85.95,80.79 L86.20,80.78 L86.45,80.76 L86.70,80.75 L86.95,80.73 L87.20,80.71 L87.45,80.69 L87.70,80.66 L87.95,80.62 L88.20,80.58 L88.45,80.53 L88.70,80.46 L88.95,80.38 L89.20,80.28 L89.45,80.14 L89.70,79.95 L89.95,79.69 L90.20,79.30 L90.45,78.72 L90.70,77.79 L90.95,76.35 L91.20,74.65 L91.45,74.04 L91.70,75.31 L91.95,76.99 L92.20,78.21 L92.45,78.98 L92.70,79.48 L92.95,79.81 L93.20,80.03 L93.45,80.20 L93.70,80.32 L93.95,80.42 L94.20,80.49 L94.45,80.55 L94.70,80.60 L94.95,80.64 L95.20,80.67 L95.45,80.70 L95.70,80.72 L95.95,80.74 L96.20,80.76 L96.45,80.77 L96.70,80.78 L96.95,80.80 L97.20,80.80 L97.45,80.81 L97.70,80.82 L97.95,80.82 L98.20,80.83 L98.45,80.83 L98.70,80.84 L98.95,80.84 L99.20,80.84 L99.45,80.84 L99.70,80.84 L99.95,80.84 L100.20,80.84 L100.45,80.84 L100.70,80.84 L100.95,80.84 L101.20,80.84 L101.45,80.83 L101.70,80.83 L101.95,80.83 L102.20,80.82 L102.45,80.82 L102.70,80.81 L102.95,80.80 L103.20,80.79 L103.45,80.79 L103.70,80.77 L103.95,80.76 L104.20,80.74 L104.45,80.73 L104.70,80.70 L104.95,80.68 L105.20,80.65 L105.45,80.61 L105.70,80.56 L105.95,80.50 L106.20,80.43 L106.45,80.33 L106.70,80.19 L106.95,80.00 L107.20,79.73 L107.45,79.32 L107.70,78.66 L107.95,77.66 L108.20,76.46 L108.45,76.03 L108.70,76.91 L108.95,78.09 L109.20,78.93 L109.45,79.47 L109.70,79.81 L109.95,80.03 L110.20,80.19 L110.45,80.30 L110.70,80.37 L110.95,80.43 L111.20,80.47 L111.45,80.50 L111.70,80.53 L111.95,80.54 L112.20,80.55 L112.45,80.55 L112.70,80.55 L112.95,80.54 L113.20,80.52 L113.45,80.51 L113.70,80.48 L113.95,80.45 L114.20,80.42 L114.45,80.37 L114.70,80.31 L114.95,80.24 L115.20,80.16 L115.45,80.05 L115.70,79.92 L115.95,79.74 L116.20,79.51 L116.45,79.20 L116.70,78.75 L116.95,78.08 L117.20,77.02 L117.45,75.29 L117.70,72.71 L117.95,70.59 L118.20,71.50 L118.45,74.01 L118.70,75.89 L118.95,76.93 L119.20,77.42 L119.45,77.53 L119.70,77.29 L119.95,76.64 L120.20,75.37 L120.45,73.14 L120.70,70.18 L120.95,69.10 L121.20,71.54 L121.45,74.52 L121.70,76.53 L121.95,77.75 L122.20,78.52 L122.45,79.03 L122.70,79.39 L122.95,79.66 L123.20,79.86 L123.45,80.01 L123.70,80.14 L123.95,80.24 L124.20,80.32 L124.45,80.39 L124.70,80.44 L124.95,80.49 L125.20,80.54 L125.45,80.57 L125.70,80.60 L125.95,80.63 L126.20,80.66 L126.45,80.68 L126.70,80.70 L126.95,80.71 L127.20,80.73 L127.45,80.74 L127.70,80.75 L127.95,80.76 L128.20,80.77 L128.45,80.78 L128.70,80.79 L128.95,80.80 L129.20,80.81 L129.45,80.81 L129.70,80.82 L129.95,80.82 L130.20,80.83 L130.45,80.83 L130.70,80.84 L130.95,80.84 L131.20,80.84 L131.45,80.85 L131.70,80.85 L131.95,80.85 L132.20,80.86 L132.45,80.86 L132.70,80.86 L132.95,80.86 L133.20,80.86 L133.45,80.87 L133.70,80.87 L133.95,80.87 L134.20,80.87 L134.45,80.87 L134.70,80.87 L134.95,80.87 L135.20,80.87 L135.45,80.87 L135.70,80.87 L135.95,80.88 L136.20,80.88 L136.45,80.88 L136.70,80.88 L136.95,80.88 L137.20,80.88 L137.45,80.88 L137.70,80.88 L137.95,80.88 L138.20,80.88 L138.45,80.87 L138.70,80.87 L138.95,80.87 L139.20,80.87 L139.45,80.87 L139.70,80.87 L139.95,80.87 L140.20,80.87 L140.45,80.87 L140.70,80.87 L140.95,80.87 L141.20,80.86 L141.45,80.86 L141.70,80.86 L141.95,80.86 L142.20,80.86 L142.45,80.86 L142.70,80.85 L142.95,80.85 L143.20,80.85 L143.45,80.85 L143.70,80.84 L143.95,80.84 L144.20,80.84 L144.45,80.83 L144.70,80.83 L144.95,80.83 L145.20,80.82 L145.45,80.82 L145.70,80.81 L145.95,80.81 L146.20,80.80 L146.45,80.80 L146.70,80.79 L146.95,80.79 L147.20,80.78 L147.45,80.77 L147.70,80.76 L147.95,80.76 L148.20,80.75 L148.45,80.74 L148.70,80.72 L148.95,80.71 L149.20,80.70 L149.45,80.68 L149.70,80.67 L149.95,80.65 L150.20,80.63 L150.45,80.61 L150.70,80.58 L150.95,80.55 L151.20,80.52 L151.45,80.48 L151.70,80.44 L151.95,80.39 L152.20,80.33 L152.45,80.26 L152.70,80.18 L152.95,80.07 L153.20,79.94 L153.45,79.78 L153.70,79.56 L153.95,79.27 L154.20,78.86 L154.45,78.26 L154.70,77.33 L154.95,75.88 L155.20,73.88 L155.45,72.37 L155.70,72.99 L155.95,74.87 L156.20,76.41 L156.45,77.36 L156.70,77.88 L156.95,78.12 L157.20,78.17 L157.45,78.06 L157.70,77.77 L157.95,77.26 L158.20,76.42 L158.45,75.05 L158.70,72.75 L158.95,68.95 L159.20,64.01 L159.45,62.15 L159.70,66.04 L159.95,70.82 L160.20,74.03 L160.45,75.97 L160.70,77.19 L160.95,77.99 L161.20,78.54 L161.45,78.95 L161.70,79.25 L161.95,79.48 L162.20,79.67 L162.45,79.81 L162.70,79.93 L162.95,80.03 L163.20,80.11 L163.45,80.18 L163.70,80.24 L163.95,80.28 L164.20,80.33 L164.45,80.36 L164.70,80.39 L164.95,80.42 L165.20,80.44 L165.45,80.45 L165.70,80.47 L165.95,80.48 L166.20,80.49 L166.45,80.50 L166.70,80.51 L166.95,80.51 L167.20,80.52 L167.45,80.52 L167.70,80.52 L167.95,80.51 L168.20,80.51 L168.45,80.51 L168.70,80.50 L168.95,80.49 L169.20,80.48 L169.45,80.47 L169.70,80.45 L169.95,80.44 L170.20,80.42 L170.45,80.39 L170.70,80.36 L170.95,80.33 L171.20,80.29 L171.45,80.25 L171.70,80.20 L171.95,80.13 L172.20,80.05 L172.45,79.96 L172.70,79.83 L172.95,79.67 L173.20,79.46 L173.45,79.17 L173.70,78.74 L173.95,78.10 L174.20,77.09 L174.45,75.55 L174.70,73.71 L174.95,73.04 L175.20,74.36 L175.45,76.13 L175.70,77.41 L175.95,78.20 L176.20,78.69 L176.45,79.01 L176.70,79.21 L176.95,79.35 L177.20,79.43 L177.45,79.48 L177.70,79.51 L177.95,79.51 L178.20,79.49 L178.45,79.45 L178.70,79.40 L178.95,79.33 L179.20,79.24 L179.45,79.14 L179.70,79.01 L179.95,78.85 L180.20,78.67 L180.45,78.45 L180.70,78.19 L180.95,77.88 L181.20,77.49 L181.45,77.01 L181.70,76.42 L181.95,75.66 L182.20,74.67 L182.45,73.34 L182.70,71.49 L182.95,68.82 L183.20,64.76 L183.45,58.39 L183.70,48.64 L183.95,37.04 L184.20,32.76 L184.45,41.00 L184.70,52.03 L184.95,59.87 L185.20,64.61 L185.45,67.36 L185.70,68.83 L185.95,69.38 L186.20,69.13 L186.45,68.00 L186.70,65.73 L186.95,61.78 L187.20,55.59 L187.45,47.95 L187.70,44.00 L187.95,48.37 L188.20,56.44 L188.45,63.12 L188.70,67.62 L188.95,70.55 L189.20,72.51 L189.45,73.83 L189.70,74.74 L189.95,75.35 L190.20,75.72 L190.45,75.88 L190.70,75.81 L190.95,75.46 L191.20,74.73 L191.45,73.54 L191.70,72.00 L191.95,71.01 L192.20,71.65 L192.45,73.36 L192.70,75.00 L192.95,76.18 L193.20,76.97 L193.45,77.49 L193.70,77.83 L193.95,78.04 L194.20,78.13 L194.45,78.12 L194.70,77.97 L194.95,77.68 L195.20,77.28 L195.45,77.01 L195.70,77.15 L195.95,77.56 L196.20,77.94 L196.45,78.16 L196.70,78.26 L196.95,78.25 L197.20,78.13 L197.45,77.91 L197.70,77.56 L197.95,77.01 L198.20,76.13 L198.45,74.71 L198.70,72.36 L198.95,69.07 L199.20,67.00 L199.45,68.78 L199.70,71.77 L199.95,73.77 L200.20,74.75 L200.45,75.04 L200.70,74.74 L200.95,73.78 L201.20,71.85 L201.45,68.65 L201.70,65.39 L201.95,65.92 L202.20,69.53 L202.45,72.60 L202.70,74.47 L202.95,75.52 L203.20,76.09 L203.45,76.34 L203.70,76.33 L203.95,76.09 L204.20,75.54 L204.45,74.57 L204.70,72.93 L204.95,70.34 L205.20,67.22 L205.45,66.07 L205.70,68.29 L205.95,71.24 L206.20,73.31 L206.45,74.51 L206.70,75.15 L206.95,75.42 L207.20,75.42 L207.45,75.19 L207.70,74.72 L207.95,73.96 L208.20,72.84 L208.45,71.18 L208.70,68.73 L208.95,65.14 L209.20,60.32 L209.45,55.55 L209.70,53.80 L209.95,55.31 L210.20,56.56 L210.45,54.82 L210.70,48.21 L210.95,36.03 L211.20,27.99 L211.45,37.89 L211.70,52.20 L211.95,61.55 L212.20,67.00 L212.45,70.31 L212.70,72.46 L212.95,73.93 L213.20,74.97 L213.45,75.71 L213.70,76.20 L213.95,76.50 L214.20,76.64 L214.45,76.80 L214.70,77.17 L214.95,77.67 L215.20,78.13 L215.45,78.48 L215.70,78.75 L215.95,78.96 L216.20,79.12 L216.45,79.25 L216.70,79.36 L216.95,79.45 L217.20,79.52 L217.45,79.58 L217.70,79.62 L217.95,79.66 L218.20,79.68 L218.45,79.69 L218.70,79.69 L218.95,79.68 L219.20,79.66 L219.45,79.62 L219.70,79.56 L219.95,79.48 L220.20,79.38 L220.45,79.25 L220.70,79.07 L220.95,78.83 L221.20,78.50 L221.45,78.06 L221.70,77.41 L221.95,76.45 L222.20,74.92 L222.45,72.40 L222.70,68.36 L222.95,63.67 L223.20,63.04 L223.45,67.39 L223.70,71.75 L223.95,74.55 L224.20,76.24 L224.45,77.30 L224.70,78.01 L224.95,78.49 L225.20,78.84 L225.45,79.10 L225.70,79.30 L225.95,79.44 L226.20,79.55 L226.45,79.62 L226.70,79.67 L226.95,79.69 L227.20,79.69 L227.45,79.66 L227.70,79.59 L227.95,79.49 L228.20,79.33 L228.45,79.09 L228.70,78.72 L228.95,78.16 L229.20,77.26 L229.45,75.83 L229.70,73.84 L229.95,72.35 L230.20,73.09 L230.45,75.14 L230.70,76.86 L230.95,77.98 L231.20,78.69 L231.45,79.16 L231.70,79.49 L231.95,79.72 L232.20,79.89 L232.45,80.03 L232.70,80.13 L232.95,80.22 L233.20,80.29 L233.45,80.34 L233.70,80.39 L233.95,80.43 L234.20,80.46 L234.45,80.49 L234.70,80.52 L234.95,80.54 L235.20,80.56 L235.45,80.58 L235.70,80.59 L235.95,80.60 L236.20,80.61 L236.45,80.62 L236.70,80.63 L236.95,80.64 L237.20,80.65 L237.45,80.65 L237.70,80.66 L237.95,80.66 L238.20,80.66 L238.45,80.67 L238.70,80.67 L238.95,80.67 L239.20,80.67 L239.45,80.67 L239.70,80.67 L239.95,80.67 L240.20,80.67 L240.45,80.66 L240.70,80.66 L240.95,80.66 L241.20,80.65 L241.45,80.65 L241.70,80.64 L241.95,80.63 L242.20,80.62 L242.45,80.61 L242.70,80.60 L242.95,80.59 L243.20,80.57 L243.45,80.56 L243.70,80.54 L243.95,80.52 L244.20,80.49 L244.45,80.47 L244.70,80.44 L244.95,80.40 L245.20,80.36 L245.45,80.32 L245.70,80.27 L245.95,80.21 L246.20,80.13 L246.45,80.05 L246.70,79.95 L246.95,79.83 L247.20,79.68 L247.45,79.49 L247.70,79.26 L247.95,78.96 L248.20,78.56 L248.45,78.01 L248.70,77.22 L248.95,76.04 L249.20,74.15 L249.45,71.05 L249.70,66.43 L249.95,62.65 L250.20,64.37 L250.45,69.01 L250.70,72.53 L250.95,74.54 L251.20,75.57 L251.45,75.91 L251.70,75.66 L251.95,74.86 L252.20,74.04 L252.45,74.40 L252.70,75.77 L252.95,77.02 L253.20,77.84 L253.45,78.35 L253.70,78.66 L253.95,78.83 L254.20,78.89 L254.45,78.85 L254.70,78.70 L254.95,78.40 L255.20,77.90 L255.45,77.12 L255.70,76.16 L255.95,75.52 L256.20,75.84 L256.45,76.80 L256.70,77.70 L256.95,78.34 L257.20,78.74 L257.45,78.98 L257.70,79.08 L257.95,79.06 L258.20,78.92 L258.45,78.64 L258.70,78.26 L258.95,78.01 L259.20,78.15 L259.45,78.55 L259.70,78.91 L259.95,79.15 L260.20,79.27 L260.45,79.29 L260.70,79.22 L260.95,79.06 L261.20,78.76 L261.45,78.26 L261.70,77.45 L261.95,76.25 L262.20,75.14 L262.45,75.26 L262.70,76.41 L262.95,77.47 L263.20,78.14 L263.45,78.51 L263.70,78.69 L263.95,78.73 L264.20,78.65 L264.45,78.47 L264.70,78.14 L264.95,77.63 L265.20,76.81 L265.45,75.44 L265.70,73.06 L265.95,69.05 L266.20,64.61 L266.45,65.20 L266.70,69.76 L266.95,73.26 L267.20,75.17 L267.45,76.09 L267.70,76.35 L267.95,76.03 L268.20,75.06 L268.45,73.78 L268.70,73.73 L268.95,75.24 L269.20,76.70 L269.45,77.59 L269.70,78.06 L269.95,78.23 L270.20,78.12 L270.45,77.72 L270.70,77.02 L270.95,76.50 L271.20,76.90 L271.45,77.83 L271.70,78.61 L271.95,79.12 L272.20,79.45 L272.45,79.66 L272.70,79.80 L272.95,79.88 L273.20,79.93 L273.45,79.93 L273.70,79.89 L273.95,79.80 L274.20,79.64 L274.45,79.41 L274.70,79.15 L274.95,79.00 L275.20,79.10 L275.45,79.38 L275.70,79.67 L275.95,79.90 L276.20,80.06 L276.45,80.17 L276.70,80.24 L276.95,80.28 L277.20,80.29 L277.45,80.28 L277.70,80.24 L277.95,80.15 L278.20,80.02 L278.45,79.83 L278.70,79.62 L278.95,79.50 L279.20,79.58 L279.45,79.80 L279.70,80.03 L279.95,80.22 L280.20,80.35 L280.45,80.45 L280.70,80.52 L280.95,80.57 L281.20,80.62 L281.45,80.65 L281.70,80.67 L281.95,80.69 L282.20,80.71 L282.45,80.72 L282.70,80.73 L282.95,80.74 L283.20,80.75 L283.45,80.76 L283.70,80.76 L283.95,80.76 L284.20,80.77 L284.45,80.77 L284.70,80.77 L284.95,80.77 L285.20,80.77 L285.45,80.77 L285.70,80.77 L285.95,80.77 L286.20,80.76 L286.45,80.76 L286.70,80.75 L286.95,80.75 L287.20,80.74 L287.45,80.73 L287.70,80.72 L287.95,80.71 L288.20,80.69 L288.45,80.68 L288.70,80.66 L288.95,80.64 L289.20,80.61 L289.45,80.58 L289.70,80.54 L289.95,80.50 L290.20,80.44 L290.45,80.38 L290.70,80.29 L290.95,80.18 L291.20,80.04 L291.45,79.84 L291.70,79.56 L291.95,79.14 L292.20,78.44 L292.45,77.24 L292.70,75.31 L292.95,73.57 L293.20,74.39 L293.45,76.42 L293.70,77.82 L293.95,78.59 L294.20,78.98 L294.45,79.16 L294.70,79.17 L294.95,79.03 L295.20,78.67 L295.45,77.99 L295.70,76.91 L295.95,76.03 L296.20,76.49 L296.45,77.66 L296.70,78.55 L296.95,79.07 L297.20,79.35 L297.45,79.48 L297.70,79.49 L297.95,79.38 L298.20,79.10 L298.45,78.56 L298.70,77.72 L298.95,77.02 L299.20,77.39 L299.45,78.31 L299.70,79.01 L299.95,79.42 L300.20,79.64 L300.45,79.73 L300.70,79.73 L300.95,79.61 L301.20,79.35 L301.45,78.94 L301.70,78.54 L301.95,78.61 L302.20,79.06 L302.45,79.48 L302.70,79.73 L302.95,79.85 L303.20,79.87 L303.45,79.80 L303.70,79.62 L303.95,79.28 L304.20,78.73 L304.45,78.13 L304.70,78.08 L304.95,78.66 L305.20,79.29 L305.45,79.73 L305.70,80.00 L305.95,80.18 L306.20,80.30 L306.45,80.37 L306.70,80.42 L306.95,80.46 L307.20,80.47 L307.45,80.47 L307.70,80.46 L307.95,80.43 L308.20,80.38 L308.45,80.30 L308.70,80.19 L308.95,80.00 L309.20,79.73 L309.45,79.33 L309.70,78.83 L309.95,78.51 L310.20,78.67 L310.45,79.15 L310.70,79.61 L310.95,79.95 L311.20,80.17 L311.45,80.32 L311.70,80.43 L311.95,80.50 L312.20,80.56 L312.45,80.60 L312.70,80.62 L312.95,80.64 L313.20,80.65 L313.45,80.65 L313.70,80.65 L313.95,80.63 L314.20,80.61 L314.45,80.57 L314.70,80.51 L314.95,80.42 L315.20,80.29 L315.45,80.11 L315.70,79.92 L315.95,79.80 L316.20,79.86 L316.45,80.04 L316.70,80.24 L316.95,80.39 L317.20,80.50 L317.45,80.58 L317.70,80.63 L317.95,80.67 L318.20,80.70 L318.45,80.71 L318.70,80.72 L318.95,80.73 L319.20,80.73 L319.45,80.72 L319.70,80.71 L319.95,80.68 L320.20,80.65 L320.45,80.61 L320.70,80.54 L320.95,80.45 L321.20,80.31 L321.45,80.13 L321.70,79.92 L321.95,79.80 L322.20,79.86 L322.45,80.04 L322.70,80.24 L322.95,80.40 L323.20,80.51 L323.45,80.58 L323.70,80.64 L323.95,80.67 L324.20,80.70 L324.45,80.71 L324.70,80.72 L324.95,80.72 L325.20,80.71 L325.45,80.70 L325.70,80.68 L325.95,80.65 L326.20,80.61 L326.45,80.55 L326.70,80.46 L326.95,80.34 L327.20,80.16 L327.45,79.92 L327.70,79.66 L327.95,79.50 L328.20,79.58 L328.45,79.82 L328.70,80.08 L328.95,80.29 L329.20,80.43 L329.45,80.54 L329.70,80.61 L329.95,80.67 L330.20,80.71 L330.45,80.74 L330.70,80.76 L330.95,80.78 L331.20,80.79 L331.45,80.81 L331.70,80.81 L331.95,80.82 L332.20,80.83 L332.45,80.83 L332.70,80.83 L332.95,80.83 L333.20,80.83 L333.45,80.83 L333.70,80.83 L333.95,80.83 L334.20,80.82 L334.45,80.82 L334.70,80.81 L334.95,80.80 L335.20,80.79 L335.45,80.78 L335.70,80.77 L335.95,80.75 L336.20,80.73 L336.45,80.71 L336.70,80.68 L336.95,80.65 L337.20,80.61 L337.45,80.56 L337.70,80.50 L337.95,80.42 L338.20,80.32 L338.45,80.17 L338.70,79.97 L338.95,79.65 L339.20,79.14 L339.45,78.26 L339.70,76.84 L339.95,75.55 L340.20,76.16 L340.45,77.66 L340.70,78.70 L340.95,79.27 L341.20,79.57 L341.45,79.70 L341.70,79.72 L341.95,79.63 L342.20,79.38 L342.45,78.90 L342.70,78.14 L342.95,77.52 L343.20,77.86 L343.45,78.72 L343.70,79.38 L343.95,79.78 L344.20,80.03 L344.45,80.18 L344.70,80.27 L344.95,80.33 L345.20,80.36 L345.45,80.37 L345.70,80.36 L345.95,80.31 L346.20,80.24 L346.45,80.11 L346.70,79.91 L346.95,79.59 L347.20,79.06 L347.45,78.38 L347.70,78.00 L347.95,78.39 L348.20,79.07 L348.45,79.60 L348.70,79.93 L348.95,80.13 L349.20,80.26 L349.45,80.34 L349.70,80.38 L349.95,80.40 L350.20,80.40 L350.45,80.37 L350.70,80.30 L350.95,80.20 L351.20,80.03 L351.45,79.76 L351.70,79.32 L351.95,78.67 L352.20,78.07 L352.45,78.16 L352.70,78.83 L352.95,79.46 L353.20,79.87 L353.45,80.14 L353.70,80.31 L353.95,80.42 L354.20,80.50 L354.45,80.55 L354.70,80.59 L354.95,80.62 L355.20,80.64 L355.45,80.64 L355.70,80.64 L355.95,80.63 L356.20,80.61 L356.45,80.58 L356.70,80.54 L356.95,80.47 L357.20,80.36 L357.45,80.20 L357.70,79.94 L357.95,79.52 L358.20,78.95 L358.45,78.51 L358.70,78.73 L358.95,79.31 L359.20,79.81 L359.45,80.13 L359.70,80.33 L359.95,80.47 L360.20,80.56 L360.45,80.62 L360.70,80.67 L360.95,80.70 L361.20,80.73 L361.45,80.75 L361.70,80.76 L361.95,80.77 L362.20,80.78 L362.45,80.78 L362.70,80.78 L362.95,80.77 L363.20,80.76 L363.45,80.75 L363.70,80.72 L363.95,80.69 L364.20,80.65 L364.45,80.59 L364.70,80.50 L364.95,80.37 L365.20,80.16 L365.45,79.82 L365.70,79.36 L365.95,79.01 L366.20,79.18 L366.45,79.65 L366.70,80.04 L366.95,80.30 L367.20,80.46 L367.45,80.56 L367.70,80.63 L367.95,80.68 L368.20,80.72 L368.45,80.74 L368.70,80.76 L368.95,80.77 L369.20,80.77 L369.45,80.77 L369.70,80.77 L369.95,80.76 L370.20,80.75 L370.45,80.73 L370.70,80.70 L370.95,80.66 L371.20,80.61 L371.45,80.53 L371.70,80.42 L371.95,80.25 L372.20,79.98 L372.45,79.55 L372.70,78.96 L372.95,78.52 L373.20,78.73 L373.45,79.33 L373.70,79.84 L373.95,80.17 L374.20,80.38 L374.45,80.52 L374.70,80.61" fill="none" stroke="#c2adc4" stroke-width="0.8" stroke-linejoin="round"/>
<path d="M42.70,125.96 L43.20,126.77 L43.70,126.70 L44.20,125.87 L44.70,126.73 L45.20,127.02 L45.70,126.52 L46.20,126.96 L46.70,127.15 L47.20,127.14 L47.70,127.07 L48.20,127.34 L48.70,126.87 L49.20,126.97 L49.70,126.99 L50.20,127.53 L50.70,127.52 L51.20,127.30 L51.70,127.05 L52.20,127.27 L52.70,127.56 L53.20,127.52 L53.70,128.30 L54.20,128.52 L54.70,126.66 L55.20,126.37 L55.70,127.44 L56.20,127.71 L56.70,128.02 L57.20,128.20 L57.70,129.20 L58.20,128.01 L58.70,127.77 L59.20,129.17 L59.70,129.01 L60.20,128.78 L60.70,128.24 L61.20,127.48 L61.70,128.21 L62.20,128.58 L62.70,127.95 L63.20,128.00 L63.70,128.45 L64.20,128.18 L64.70,128.48 L65.20,128.78 L65.70,128.84 L66.20,128.59 L66.70,129.08 L67.20,129.49 L67.70,129.30 L68.20,128.66 L68.70,129.25 L69.20,128.98 L69.70,129.46 L70.20,128.80 L70.70,129.44 L71.20,129.41 L71.70,128.65 L72.20,128.90 L72.70,129.31 L73.20,129.53 L73.70,128.98 L74.20,128.70 L74.70,129.36 L75.20,129.32 L75.70,129.57 L76.20,130.00 L76.70,128.94 L77.20,129.44 L77.70,130.33 L78.20,129.80 L78.70,129.27 L79.20,129.97 L79.70,130.07 L80.20,130.32 L80.70,129.85 L81.20,129.07 L81.70,129.55 L82.20,129.69 L82.70,130.26 L83.20,130.24 L83.70,129.24 L84.20,129.12 L84.70,130.27 L85.20,130.61 L85.70,129.93 L86.20,130.01 L86.70,130.38 L87.20,130.51 L87.70,130.74 L88.20,130.53 L88.70,130.25 L89.20,130.12 L89.70,130.76 L90.20,129.39 L90.70,129.81 L91.20,130.34 L91.70,129.66 L92.20,130.27 L92.70,130.15 L93.20,130.73 L93.70,130.56 L94.20,130.78 L94.70,131.23 L95.20,130.94 L95.70,130.16 L96.20,129.60 L96.70,131.12 L97.20,130.86 L97.70,130.21 L98.20,130.52 L98.70,130.52 L99.20,130.98 L99.70,130.79 L100.20,130.61 L100.70,130.25 L101.20,130.69 L101.70,130.18 L102.20,130.73 L102.70,131.50 L103.20,130.14 L103.70,129.06 L104.20,130.42 L104.70,132.00 L105.20,130.61 L105.70,129.77 L106.20,130.64 L106.70,130.30 L107.20,130.18 L107.70,130.32 L108.20,130.80 L108.70,130.50 L109.20,130.66 L109.70,130.57 L110.20,130.14 L110.70,130.25 L111.20,130.01 L111.70,130.32 L112.20,129.89 L112.70,129.62 L113.20,130.82 L113.70,130.50 L114.20,130.11 L114.70,130.30 L115.20,129.85 L115.70,129.59 L116.20,129.75 L116.70,129.57 L117.20,128.59 L117.70,129.12 L118.20,128.69 L118.70,128.16 L119.20,128.24 L119.70,128.69 L120.20,130.01 L120.70,129.25 L121.20,129.58 L121.70,128.88 L122.20,129.62 L122.70,130.61 L123.20,130.34 L123.70,130.02 L124.20,130.48 L124.70,130.99 L125.20,131.16 L125.70,131.89 L126.20,131.34 L126.70,130.65 L127.20,130.77 L127.70,130.93 L128.20,131.05 L128.70,131.03 L129.20,131.12 L129.70,130.25 L130.20,131.15 L130.70,130.96 L131.20,130.39 L131.70,131.19 L132.20,131.90 L132.70,131.64 L133.20,131.31 L133.70,130.71 L134.20,132.40 L134.70,132.18 L135.20,130.77 L135.70,130.56 L136.20,131.07 L136.70,130.42 L137.20,130.96 L137.70,131.00 L138.20,131.72 L138.70,131.92 L139.20,130.04 L139.70,130.68 L140.20,130.40 L140.70,131.43 L141.20,131.50 L141.70,131.50 L142.20,130.77 L142.70,131.89 L143.20,132.56 L143.70,131.05 L144.20,131.14 L144.70,130.90 L145.20,131.01 L145.70,130.51 L146.20,131.81 L146.70,131.01 L147.20,130.76 L147.70,131.28 L148.20,130.85 L148.70,130.81 L149.20,130.71 L149.70,130.83 L150.20,130.36 L150.70,130.36 L151.20,130.41 L151.70,130.23 L152.20,130.37 L152.70,130.31 L153.20,130.85 L153.70,130.62 L154.20,130.61 L154.70,130.49 L155.20,130.54 L155.70,130.25 L156.20,131.01 L156.70,130.53 L157.20,130.40 L157.70,131.03 L158.20,131.27 L158.70,130.88 L159.20,129.91 L159.70,130.81 L160.20,131.21 L160.70,130.35 L161.20,131.10 L161.70,130.80 L162.20,130.30 L162.70,130.82 L163.20,130.93 L163.70,131.07 L164.20,130.24 L164.70,131.58 L165.20,131.06 L165.70,130.10 L166.20,130.99 L166.70,130.92 L167.20,131.05 L167.70,130.83 L168.20,130.81 L168.70,130.99 L169.20,130.52 L169.70,131.00 L170.20,130.67 L170.70,130.20 L171.20,130.54 L171.70,130.87 L172.20,130.55 L172.70,130.03 L173.20,130.55 L173.70,129.53 L174.20,129.27 L174.70,129.78 L175.20,129.09 L175.70,129.27 L176.20,129.25 L176.70,129.43 L177.20,128.37 L177.70,127.54 L178.20,127.22 L178.70,125.02 L179.20,126.18 L179.70,124.35 L180.20,122.38 L180.70,121.89 L181.20,120.48 L181.70,118.24 L182.20,117.95 L182.70,117.43 L183.20,115.72 L183.70,114.46 L184.20,113.82 L184.70,112.20 L185.20,111.33 L185.70,110.16 L186.20,108.49 L186.70,107.10 L187.20,107.21 L187.70,107.53 L188.20,109.36 L188.70,110.66 L189.20,112.20 L189.70,113.19 L190.20,114.50 L190.70,115.50 L191.20,117.40 L191.70,119.30 L192.20,118.99 L192.70,118.16 L193.20,117.42 L193.70,116.27 L194.20,115.22 L194.70,114.66 L195.20,113.96 L195.70,114.99 L196.20,115.63 L196.70,115.25 L197.20,113.60 L197.70,110.48 L198.20,109.07 L198.70,108.07 L199.20,108.51 L199.70,110.16 L200.20,111.78 L200.70,111.95 L201.20,111.44 L201.70,107.77 L202.20,105.10 L202.70,100.84 L203.20,95.21 L203.70,90.22 L204.20,86.24 L204.70,82.58 L205.20,80.99 L205.70,82.51 L206.20,85.85 L206.70,89.05 L207.20,94.05 L207.70,99.44 L208.20,103.68 L208.70,107.39 L209.20,109.66 L209.70,113.03 L210.20,115.63 L210.70,118.35 L211.20,121.13 L211.70,120.51 L212.20,121.72 L212.70,122.12 L213.20,123.13 L213.70,122.83 L214.20,123.07 L214.70,123.76 L215.20,124.25 L215.70,124.14 L216.20,123.60 L216.70,123.35 L217.20,123.79 L217.70,123.29 L218.20,122.02 L218.70,122.87 L219.20,123.14 L219.70,123.27 L220.20,122.74 L220.70,123.05 L221.20,122.27 L221.70,122.54 L222.20,122.10 L222.70,122.19 L223.20,122.31 L223.70,121.21 L224.20,120.79 L224.70,120.52 L225.20,120.75 L225.70,120.59 L226.20,119.90 L226.70,121.25 L227.20,122.87 L227.70,124.70 L228.20,123.87 L228.70,124.38 L229.20,126.21 L229.70,125.86 L230.20,125.93 L230.70,127.25 L231.20,128.18 L231.70,127.77 L232.20,128.35 L232.70,128.68 L233.20,129.57 L233.70,129.33 L234.20,129.73 L234.70,129.15 L235.20,129.25 L235.70,129.50 L236.20,130.15 L236.70,130.09 L237.20,129.25 L237.70,129.61 L238.20,129.84 L238.70,129.29 L239.20,128.90 L239.70,128.75 L240.20,127.84 L240.70,128.27 L241.20,128.38 L241.70,127.47 L242.20,127.60 L242.70,126.20 L243.20,125.12 L243.70,124.00 L244.20,123.78 L244.70,120.97 L245.20,119.47 L245.70,118.11 L246.20,116.16 L246.70,115.00 L247.20,112.73 L247.70,111.06 L248.20,112.97 L248.70,114.08 L249.20,115.79 L249.70,116.79 L250.20,118.82 L250.70,120.19 L251.20,120.30 L251.70,121.63 L252.20,122.35 L252.70,122.79 L253.20,123.51 L253.70,124.05 L254.20,125.01 L254.70,125.68 L255.20,125.91 L255.70,126.86 L256.20,126.36 L256.70,126.14 L257.20,125.76 L257.70,125.55 L258.20,123.98 L258.70,123.97 L259.20,122.73 L259.70,121.20 L260.20,119.88 L260.70,119.57 L261.20,119.04 L261.70,118.33 L262.20,118.72 L262.70,120.00 L263.20,121.01 L263.70,122.39 L264.20,122.77 L264.70,122.13 L265.20,121.23 L265.70,120.34 L266.20,120.40 L266.70,121.51 L267.20,123.31 L267.70,124.12 L268.20,124.36 L268.70,125.03 L269.20,125.53 L269.70,125.94 L270.20,126.79 L270.70,127.60 L271.20,128.84 L271.70,128.44 L272.20,128.86 L272.70,129.43 L273.20,128.77 L273.70,129.28 L274.20,129.22 L274.70,128.54 L275.20,128.72 L275.70,128.78 L276.20,128.64 L276.70,128.63 L277.20,128.83 L277.70,129.05 L278.20,128.33 L278.70,128.22 L279.20,127.26 L279.70,127.44 L280.20,127.63 L280.70,127.25 L281.20,127.19 L281.70,127.51 L282.20,127.18 L282.70,127.41 L283.20,128.09 L283.70,128.60 L284.20,128.20 L284.70,128.46 L285.20,126.59 L285.70,125.56 L286.20,124.96 L286.70,123.25 L287.20,121.51 L287.70,120.21 L288.20,120.07 L288.70,120.13 L289.20,119.31 L289.70,118.71 L290.20,118.37 L290.70,118.97 L291.20,118.22 L291.70,119.33 L292.20,120.10 L292.70,119.60 L293.20,121.29 L293.70,120.40 L294.20,120.00 L294.70,120.12 L295.20,121.31 L295.70,120.77 L296.20,121.09 L296.70,121.28 L297.20,121.00 L297.70,120.06 L298.20,120.04 L298.70,121.32 L299.20,120.36 L299.70,120.12 L300.20,120.71 L300.70,121.55 L301.20,121.70 L301.70,122.10 L302.20,121.56 L302.70,122.54 L303.20,123.23 L303.70,122.66 L304.20,124.42 L304.70,126.05 L305.20,125.23 L305.70,125.48 L306.20,126.61 L306.70,125.68 L307.20,125.05 L307.70,125.48 L308.20,126.15 L308.70,126.44 L309.20,127.18 L309.70,127.38 L310.20,126.68 L310.70,127.41 L311.20,128.53 L311.70,128.56 L312.20,128.42 L312.70,127.99 L313.20,128.37 L313.70,127.69 L314.20,128.27 L314.70,128.31 L315.20,128.88 L315.70,128.93 L316.20,128.16 L316.70,128.59 L317.20,129.52 L317.70,128.69 L318.20,128.63 L318.70,128.76 L319.20,128.46 L319.70,129.63 L320.20,130.36 L320.70,130.23 L321.20,129.88 L321.70,129.62 L322.20,129.67 L322.70,129.18 L323.20,129.70 L323.70,129.98 L324.20,129.82 L324.70,128.92 L325.20,128.77 L325.70,128.62 L326.20,129.40 L326.70,128.82 L327.20,127.29 L327.70,127.82 L328.20,128.80 L328.70,128.27 L329.20,127.88 L329.70,127.21 L330.20,125.70 L330.70,125.01 L331.20,124.93 L331.70,125.21 L332.20,125.27 L332.70,125.20 L333.20,124.44 L333.70,124.54 L334.20,123.83 L334.70,123.04 L335.20,123.47 L335.70,122.74 L336.20,121.47 L336.70,122.07 L337.20,123.22 L337.70,122.13 L338.20,123.11 L338.70,123.94 L339.20,123.71 L339.70,123.78 L340.20,124.60 L340.70,125.12 L341.20,126.41 L341.70,126.74 L342.20,126.00 L342.70,126.36 L343.20,127.63 L343.70,128.82 L344.20,128.49 L344.70,128.24 L345.20,129.05 L345.70,128.47 L346.20,127.99 L346.70,127.43 L347.20,127.69 L347.70,129.25 L348.20,128.02 L348.70,128.04 L349.20,127.64 L349.70,128.14 L350.20,128.85 L350.70,128.44 L351.20,128.71 L351.70,128.91 L352.20,128.77 L352.70,129.33 L353.20,129.10 L353.70,128.34 L354.20,127.89 L354.70,127.69 L355.20,128.27 L355.70,128.09 L356.20,129.41 L356.70,129.54 L357.20,128.30 L357.70,127.81 L358.20,128.78 L358.70,127.40 L359.20,127.45 L359.70,128.52 L360.20,127.98 L360.70,127.94 L361.20,128.20 L361.70,128.82 L362.20,128.82 L362.70,128.90 L363.20,129.10 L363.70,128.91 L364.20,129.38 L364.70,128.72 L365.20,128.04 L365.70,127.76 L366.20,127.80 L366.70,128.38 L367.20,129.40 L367.70,129.29 L368.20,128.72 L368.70,128.29 L369.20,128.40 L369.70,128.50 L370.20,128.36 L370.70,127.81 L371.20,128.05 L371.70,128.91 L372.20,127.54 L372.70,127.79 L373.20,127.15 L373.70,127.85 L374.20,127.75 L374.70,126.81" fill="none" stroke="#5a8474" stroke-width="0.88" stroke-linejoin="round"/>
<path d="M42.70,176.77 L43.20,176.70 L43.70,176.64 L44.20,175.67 L44.70,177.41 L45.20,177.96 L45.70,177.13 L46.20,177.42 L46.70,177.43 L47.20,176.95 L47.70,177.59 L48.20,177.29 L48.70,177.06 L49.20,176.87 L49.70,177.44 L50.20,177.46 L50.70,177.72 L51.20,177.33 L51.70,177.52 L52.20,177.22 L52.70,177.95 L53.20,178.04 L53.70,178.05 L54.20,178.19 L54.70,177.56 L55.20,178.24 L55.70,179.31 L56.20,177.78 L56.70,177.06 L57.20,177.21 L57.70,178.49 L58.20,178.65 L58.70,179.04 L59.20,179.11 L59.70,178.84 L60.20,178.83 L60.70,178.67 L61.20,179.16 L61.70,178.42 L62.20,178.42 L62.70,178.94 L63.20,179.89 L63.70,178.94 L64.20,178.29 L64.70,178.50 L65.20,179.37 L65.70,179.07 L66.20,179.59 L66.70,178.28 L67.20,179.11 L67.70,179.63 L68.20,178.34 L68.70,178.58 L69.20,179.36 L69.70,178.93 L70.20,179.07 L70.70,179.68 L71.20,178.49 L71.70,177.23 L72.20,176.20 L72.70,175.53 L73.20,173.27 L73.70,171.72 L74.20,172.39 L74.70,174.76 L75.20,175.88 L75.70,176.22 L76.20,176.46 L76.70,178.72 L77.20,179.33 L77.70,180.04 L78.20,179.72 L78.70,179.18 L79.20,179.73 L79.70,179.75 L80.20,179.06 L80.70,179.00 L81.20,180.40 L81.70,180.22 L82.20,179.96 L82.70,179.62 L83.20,179.26 L83.70,179.96 L84.20,179.76 L84.70,179.21 L85.20,179.36 L85.70,178.96 L86.20,179.11 L86.70,179.46 L87.20,178.27 L87.70,178.53 L88.20,177.10 L88.70,176.05 L89.20,174.65 L89.70,173.43 L90.20,173.21 L90.70,174.02 L91.20,175.37 L91.70,176.49 L92.20,177.29 L92.70,177.66 L93.20,178.66 L93.70,179.33 L94.20,179.58 L94.70,179.29 L95.20,179.74 L95.70,178.11 L96.20,176.74 L96.70,178.25 L97.20,178.25 L97.70,179.37 L98.20,179.26 L98.70,179.94 L99.20,179.36 L99.70,180.52 L100.20,180.60 L100.70,179.97 L101.20,181.11 L101.70,181.16 L102.20,180.57 L102.70,179.98 L103.20,180.05 L103.70,179.49 L104.20,178.85 L104.70,177.81 L105.20,175.71 L105.70,173.30 L106.20,171.44 L106.70,170.82 L107.20,172.75 L107.70,175.39 L108.20,177.26 L108.70,178.77 L109.20,178.70 L109.70,179.54 L110.20,179.55 L110.70,180.73 L111.20,180.28 L111.70,180.20 L112.20,179.63 L112.70,179.35 L113.20,179.30 L113.70,178.20 L114.20,177.28 L114.70,175.30 L115.20,174.43 L115.70,172.32 L116.20,171.80 L116.70,170.50 L117.20,170.58 L117.70,169.47 L118.20,169.50 L118.70,168.00 L119.20,166.63 L119.70,166.56 L120.20,167.82 L120.70,170.37 L121.20,172.93 L121.70,174.85 L122.20,176.35 L122.70,177.14 L123.20,178.16 L123.70,179.30 L124.20,179.04 L124.70,180.54 L125.20,180.95 L125.70,181.03 L126.20,181.88 L126.70,182.19 L127.20,182.08 L127.70,181.50 L128.20,181.98 L128.70,182.31 L129.20,181.75 L129.70,182.51 L130.20,182.67 L130.70,181.36 L131.20,181.95 L131.70,181.70 L132.20,182.65 L132.70,182.99 L133.20,181.98 L133.70,181.72 L134.20,182.27 L134.70,182.30 L135.20,183.11 L135.70,183.08 L136.20,182.41 L136.70,182.63 L137.20,181.50 L137.70,182.15 L138.20,182.90 L138.70,182.48 L139.20,182.01 L139.70,182.54 L140.20,183.49 L140.70,182.89 L141.20,181.88 L141.70,182.90 L142.20,181.75 L142.70,182.28 L143.20,182.21 L143.70,182.75 L144.20,182.16 L144.70,182.89 L145.20,182.81 L145.70,181.56 L146.20,180.97 L146.70,181.67 L147.20,182.70 L147.70,182.33 L148.20,181.94 L148.70,181.63 L149.20,181.80 L149.70,181.49 L150.20,181.06 L150.70,180.20 L151.20,181.01 L151.70,181.68 L152.20,180.63 L152.70,182.17 L153.20,182.33 L153.70,181.54 L154.20,180.69 L154.70,181.78 L155.20,182.32 L155.70,181.80 L156.20,181.03 L156.70,182.31 L157.20,182.08 L157.70,181.83 L158.20,183.54 L158.70,183.87 L159.20,183.16 L159.70,182.24 L160.20,182.53 L160.70,181.31 L161.20,181.93 L161.70,181.99 L162.20,181.57 L162.70,181.33 L163.20,182.33 L163.70,182.54 L164.20,182.49 L164.70,182.85 L165.20,182.15 L165.70,181.61 L166.20,181.26 L166.70,181.86 L167.20,182.69 L167.70,182.45 L168.20,182.65 L168.70,181.88 L169.20,181.86 L169.70,181.83 L170.20,181.51 L170.70,182.95 L171.20,183.04 L171.70,182.01 L172.20,181.65 L172.70,181.95 L173.20,181.32 L173.70,181.88 L174.20,181.27 L174.70,181.24 L175.20,180.95 L175.70,180.89 L176.20,180.32 L176.70,179.73 L177.20,179.62 L177.70,179.47 L178.20,179.12 L178.70,178.56 L179.20,178.40 L179.70,177.31 L180.20,175.61 L180.70,174.65 L181.20,172.81 L181.70,172.38 L182.20,171.48 L182.70,169.88 L183.20,170.27 L183.70,170.49 L184.20,168.43 L184.70,168.13 L185.20,167.04 L185.70,163.92 L186.20,161.53 L186.70,159.27 L187.20,157.12 L187.70,154.87 L188.20,154.97 L188.70,155.43 L189.20,158.86 L189.70,161.90 L190.20,165.76 L190.70,167.87 L191.20,167.24 L191.70,167.44 L192.20,168.17 L192.70,168.68 L193.20,168.47 L193.70,169.56 L194.20,170.81 L194.70,173.28 L195.20,173.79 L195.70,171.11 L196.20,168.37 L196.70,165.53 L197.20,163.68 L197.70,160.59 L198.20,157.96 L198.70,157.89 L199.20,159.85 L199.70,162.04 L200.20,163.63 L200.70,165.68 L201.20,166.57 L201.70,165.92 L202.20,163.48 L202.70,157.78 L203.20,152.81 L203.70,147.68 L204.20,142.59 L204.70,139.52 L205.20,136.28 L205.70,135.98 L206.20,137.16 L206.70,140.55 L207.20,144.58 L207.70,148.56 L208.20,152.02 L208.70,156.35 L209.20,161.09 L209.70,164.46 L210.20,167.79 L210.70,170.52 L211.20,173.50 L211.70,175.42 L212.20,176.16 L212.70,177.77 L213.20,177.75 L213.70,177.42 L214.20,177.32 L214.70,178.78 L215.20,178.86 L215.70,179.28 L216.20,179.32 L216.70,179.89 L217.20,180.02 L217.70,179.18 L218.20,179.23 L218.70,179.79 L219.20,178.80 L219.70,179.66 L220.20,180.02 L220.70,179.76 L221.20,178.99 L221.70,178.85 L222.20,178.04 L222.70,178.11 L223.20,177.77 L223.70,177.69 L224.20,177.03 L224.70,176.40 L225.20,176.02 L225.70,173.96 L226.20,173.55 L226.70,172.22 L227.20,172.53 L227.70,175.20 L228.20,177.18 L228.70,178.63 L229.20,178.84 L229.70,180.12 L230.20,180.99 L230.70,181.91 L231.20,181.75 L231.70,182.07 L232.20,181.68 L232.70,181.99 L233.20,182.21 L233.70,182.89 L234.20,182.41 L234.70,182.25 L235.20,183.06 L235.70,183.99 L236.20,183.55 L236.70,183.21 L237.20,182.83 L237.70,183.34 L238.20,183.27 L238.70,183.66 L239.20,183.09 L239.70,182.06 L240.20,181.88 L240.70,181.65 L241.20,181.32 L241.70,182.40 L242.20,182.51 L242.70,181.19 L243.20,182.00 L243.70,181.19 L244.20,179.34 L244.70,178.66 L245.20,177.54 L245.70,175.72 L246.20,173.36 L246.70,172.57 L247.20,171.91 L247.70,169.42 L248.20,169.62 L248.70,170.23 L249.20,170.71 L249.70,172.22 L250.20,173.31 L250.70,174.02 L251.20,175.14 L251.70,176.92 L252.20,176.62 L252.70,177.60 L253.20,178.54 L253.70,178.61 L254.20,179.01 L254.70,179.00 L255.20,179.48 L255.70,180.38 L256.20,180.98 L256.70,180.59 L257.20,182.33 L257.70,181.07 L258.20,180.26 L258.70,179.67 L259.20,178.92 L259.70,179.17 L260.20,178.06 L260.70,177.91 L261.20,177.44 L261.70,175.67 L262.20,175.83 L262.70,175.28 L263.20,176.71 L263.70,175.97 L264.20,175.27 L264.70,174.91 L265.20,175.39 L265.70,176.39 L266.20,176.93 L266.70,177.34 L267.20,178.14 L267.70,179.13 L268.20,180.71 L268.70,180.01 L269.20,180.30 L269.70,180.60 L270.20,180.49 L270.70,180.71 L271.20,181.13 L271.70,182.18 L272.20,182.18 L272.70,181.94 L273.20,182.53 L273.70,182.68 L274.20,182.44 L274.70,182.71 L275.20,182.30 L275.70,182.85 L276.20,183.12 L276.70,182.70 L277.20,182.17 L277.70,183.42 L278.20,183.29 L278.70,184.51 L279.20,183.27 L279.70,183.29 L280.20,182.95 L280.70,183.02 L281.20,183.42 L281.70,182.66 L282.20,182.62 L282.70,182.81 L283.20,182.74 L283.70,182.86 L284.20,183.04 L284.70,182.89 L285.20,182.24 L285.70,181.31 L286.20,180.18 L286.70,179.57 L287.20,179.14 L287.70,179.10 L288.20,178.10 L288.70,176.81 L289.20,177.09 L289.70,176.29 L290.20,175.65 L290.70,175.74 L291.20,176.25 L291.70,175.15 L292.20,175.51 L292.70,176.72 L293.20,176.96 L293.70,176.74 L294.20,176.91 L294.70,178.03 L295.20,177.59 L295.70,177.88 L296.20,178.20 L296.70,177.63 L297.20,177.82 L297.70,177.39 L298.20,176.88 L298.70,176.33 L299.20,177.05 L299.70,176.78 L300.20,176.47 L300.70,176.20 L301.20,177.63 L301.70,177.79 L302.20,177.45 L302.70,177.46 L303.20,177.42 L303.70,178.61 L304.20,179.45 L304.70,179.10 L305.20,180.52 L305.70,181.24 L306.20,180.58 L306.70,180.66 L307.20,181.02 L307.70,181.52 L308.20,181.65 L308.70,181.00 L309.20,182.40 L309.70,182.57 L310.20,182.95 L310.70,183.26 L311.20,182.65 L311.70,182.75 L312.20,183.17 L312.70,183.36 L313.20,182.99 L313.70,182.65 L314.20,182.94 L314.70,182.71 L315.20,182.72 L315.70,182.09 L316.20,182.91 L316.70,182.83 L317.20,182.89 L317.70,183.29 L318.20,183.62 L318.70,184.53 L319.20,184.04 L319.70,182.93 L320.20,183.42 L320.70,183.40 L321.20,183.78 L321.70,183.46 L322.20,183.26 L322.70,183.37 L323.20,183.37 L323.70,182.75 L324.20,183.10 L324.70,183.66 L325.20,184.35 L325.70,183.75 L326.20,183.29 L326.70,183.60 L327.20,183.61 L327.70,183.99 L328.20,183.57 L328.70,182.95 L329.20,183.40 L329.70,183.66 L330.20,182.56 L330.70,182.32 L331.20,181.30 L331.70,181.27 L332.20,180.88 L332.70,180.70 L333.20,180.32 L333.70,180.09 L334.20,179.82 L334.70,179.77 L335.20,179.44 L335.70,178.80 L336.20,178.25 L336.70,179.49 L337.20,180.29 L337.70,179.65 L338.20,180.05 L338.70,179.44 L339.20,179.24 L339.70,180.13 L340.20,181.51 L340.70,180.86 L341.20,180.72 L341.70,182.24 L342.20,181.25 L342.70,182.09 L343.20,182.79 L343.70,182.67 L344.20,182.94 L344.70,184.42 L345.20,183.20 L345.70,183.03 L346.20,183.38 L346.70,183.29 L347.20,182.96 L347.70,184.33 L348.20,184.22 L348.70,182.95 L349.20,183.06 L349.70,183.80 L350.20,184.00 L350.70,183.04 L351.20,183.31 L351.70,183.72 L352.20,183.82 L352.70,183.82 L353.20,182.67 L353.70,184.03 L354.20,183.92 L354.70,184.37 L355.20,185.20 L355.70,183.89 L356.20,182.75 L356.70,183.60 L357.20,183.53 L357.70,183.24 L358.20,182.95 L358.70,184.25 L359.20,183.79 L359.70,182.95 L360.20,183.29 L360.70,183.17 L361.20,183.72 L361.70,183.72 L362.20,183.29 L362.70,183.99 L363.20,183.69 L363.70,184.12 L364.20,184.66 L364.70,183.95 L365.20,183.47 L365.70,183.83 L366.20,184.33 L366.70,184.01 L367.20,183.88 L367.70,183.81 L368.20,183.93 L368.70,184.12 L369.20,183.47 L369.70,183.26 L370.20,183.51 L370.70,183.19 L371.20,183.38 L371.70,183.66 L372.20,183.37 L372.70,182.86 L373.20,182.53 L373.70,183.62 L374.20,183.54 L374.70,182.22" fill="none" stroke="#466173" stroke-width="0.9" stroke-linejoin="round"/>
<path d="M42.70,234.24 L43.20,233.66 L43.70,233.90 L44.20,233.95 L44.70,233.90 L45.20,233.97 L45.70,233.64 L46.20,233.86 L46.70,233.88 L47.20,234.68 L47.70,234.40 L48.20,234.05 L48.70,234.03 L49.20,233.96 L49.70,233.86 L50.20,233.97 L50.70,234.21 L51.20,234.14 L51.70,234.33 L52.20,234.20 L52.70,234.16 L53.20,234.49 L53.70,234.42 L54.20,234.13 L54.70,234.12 L55.20,234.30 L55.70,234.64 L56.20,234.32 L56.70,234.15 L57.20,234.41 L57.70,234.14 L58.20,234.11 L58.70,234.40 L59.20,234.44 L59.70,234.32 L60.20,234.40 L60.70,233.76 L61.20,234.25 L61.70,234.17 L62.20,233.87 L62.70,234.21 L63.20,234.45 L63.70,234.26 L64.20,234.04 L64.70,234.22 L65.20,234.29 L65.70,234.58 L66.20,234.56 L66.70,234.38 L67.20,234.49 L67.70,234.26 L68.20,233.95 L68.70,234.11 L69.20,234.14 L69.70,233.88 L70.20,233.55 L70.70,233.29 L71.20,232.14 L71.70,231.68 L72.20,230.87 L72.70,228.73 L73.20,226.31 L73.70,224.57 L74.20,225.62 L74.70,227.63 L75.20,229.89 L75.70,231.43 L76.20,232.62 L76.70,232.78 L77.20,233.37 L77.70,233.89 L78.20,233.91 L78.70,234.39 L79.20,234.12 L79.70,234.29 L80.20,234.21 L80.70,234.64 L81.20,234.59 L81.70,234.42 L82.20,234.13 L82.70,234.70 L83.20,234.78 L83.70,234.69 L84.20,234.76 L84.70,234.62 L85.20,234.34 L85.70,234.20 L86.20,234.15 L86.70,234.43 L87.20,233.78 L87.70,233.40 L88.20,233.16 L88.70,232.77 L89.20,232.19 L89.70,231.50 L90.20,231.64 L90.70,232.73 L91.20,233.74 L91.70,234.24 L92.20,234.55 L92.70,234.70 L93.20,234.83 L93.70,234.72 L94.20,234.78 L94.70,234.40 L95.20,234.24 L95.70,233.72 L96.20,233.50 L96.70,233.82 L97.20,234.86 L97.70,235.22 L98.20,235.42 L98.70,234.97 L99.20,235.23 L99.70,235.43 L100.20,235.66 L100.70,235.18 L101.20,235.62 L101.70,235.84 L102.20,235.32 L102.70,235.14 L103.20,235.11 L103.70,234.93 L104.20,234.51 L104.70,234.09 L105.20,232.94 L105.70,231.53 L106.20,230.10 L106.70,230.21 L107.20,231.39 L107.70,232.95 L108.20,233.31 L108.70,233.95 L109.20,234.44 L109.70,235.18 L110.20,235.24 L110.70,234.91 L111.20,234.65 L111.70,234.61 L112.20,234.14 L112.70,233.24 L113.20,232.33 L113.70,231.43 L114.20,229.43 L114.70,226.75 L115.20,224.22 L115.70,222.54 L116.20,221.84 L116.70,222.43 L117.20,223.22 L117.70,223.33 L118.20,222.25 L118.70,221.17 L119.20,221.01 L119.70,222.53 L120.20,224.49 L120.70,226.28 L121.20,228.52 L121.70,230.47 L122.20,231.78 L122.70,233.00 L123.20,233.65 L123.70,234.25 L124.20,234.95 L124.70,235.31 L125.20,235.77 L125.70,235.33 L126.20,235.82 L126.70,235.95 L127.20,236.09 L127.70,236.36 L128.20,236.49 L128.70,236.52 L129.20,236.36 L129.70,236.60 L130.20,236.36 L130.70,236.25 L131.20,236.46 L131.70,236.28 L132.20,236.73 L132.70,236.73 L133.20,236.88 L133.70,236.54 L134.20,236.30 L134.70,236.38 L135.20,236.55 L135.70,236.33 L136.20,236.42 L136.70,236.42 L137.20,236.72 L137.70,236.40 L138.20,236.56 L138.70,236.35 L139.20,236.15 L139.70,236.18 L140.20,236.10 L140.70,236.32 L141.20,236.60 L141.70,236.50 L142.20,236.51 L142.70,236.75 L143.20,236.55 L143.70,236.41 L144.20,236.30 L144.70,235.99 L145.20,236.34 L145.70,236.02 L146.20,236.28 L146.70,236.28 L147.20,236.35 L147.70,236.05 L148.20,235.61 L148.70,235.56 L149.20,235.17 L149.70,234.55 L150.20,233.72 L150.70,232.68 L151.20,231.64 L151.70,230.43 L152.20,229.19 L152.70,227.69 L153.20,227.32 L153.70,227.30 L154.20,227.82 L154.70,228.14 L155.20,227.05 L155.70,225.75 L156.20,224.11 L156.70,222.56 L157.20,221.61 L157.70,220.56 L158.20,219.95 L158.70,221.27 L159.20,223.40 L159.70,225.36 L160.20,227.11 L160.70,229.48 L161.20,231.45 L161.70,232.21 L162.20,233.06 L162.70,233.99 L163.20,234.55 L163.70,235.38 L164.20,235.43 L164.70,235.17 L165.20,235.21 L165.70,235.44 L166.20,236.02 L166.70,235.74 L167.20,235.61 L167.70,235.65 L168.20,235.46 L168.70,235.71 L169.20,235.12 L169.70,234.88 L170.20,234.51 L170.70,233.66 L171.20,232.17 L171.70,231.56 L172.20,230.27 L172.70,229.20 L173.20,228.90 L173.70,229.65 L174.20,230.98 L174.70,231.89 L175.20,232.51 L175.70,233.09 L176.20,233.24 L176.70,232.65 L177.20,231.72 L177.70,230.38 L178.20,227.96 L178.70,224.86 L179.20,220.63 L179.70,214.45 L180.20,207.95 L180.70,201.39 L181.20,195.30 L181.70,190.71 L182.20,188.26 L182.70,192.22 L183.20,199.20 L183.70,204.93 L184.20,199.99 L184.70,194.13 L185.20,188.65 L185.70,188.18 L186.20,192.08 L186.70,197.00 L187.20,204.01 L187.70,210.51 L188.20,215.84 L188.70,220.85 L189.20,223.57 L189.70,226.39 L190.20,227.33 L190.70,227.07 L191.20,226.38 L191.70,225.35 L192.20,225.12 L192.70,226.20 L193.20,228.17 L193.70,229.58 L194.20,229.16 L194.70,226.62 L195.20,223.31 L195.70,219.04 L196.20,214.73 L196.70,210.51 L197.20,206.72 L197.70,205.68 L198.20,208.11 L198.70,212.00 L199.20,216.23 L199.70,221.28 L200.20,224.76 L200.70,226.87 L201.20,226.36 L201.70,222.59 L202.20,217.93 L202.70,210.61 L203.20,203.90 L203.70,198.38 L204.20,194.05 L204.70,193.54 L205.20,194.88 L205.70,196.56 L206.20,199.11 L206.70,199.91 L207.20,197.44 L207.70,193.87 L208.20,190.41 L208.70,188.67 L209.20,191.63 L209.70,199.36 L210.20,208.33 L210.70,217.15 L211.20,222.04 L211.70,226.72 L212.20,229.36 L212.70,231.68 L213.20,232.29 L213.70,231.90 L214.20,232.13 L214.70,231.50 L215.20,231.24 L215.70,231.33 L216.20,230.87 L216.70,230.32 L217.20,229.66 L217.70,228.16 L218.20,225.74 L218.70,223.59 L219.20,220.72 L219.70,218.70 L220.20,218.05 L220.70,219.79 L221.20,223.03 L221.70,225.44 L222.20,228.23 L222.70,230.40 L223.20,230.97 L223.70,230.01 L224.20,229.05 L224.70,227.79 L225.20,227.05 L225.70,227.24 L226.20,227.77 L226.70,229.32 L227.20,230.94 L227.70,232.52 L228.20,233.86 L228.70,234.60 L229.20,235.44 L229.70,235.74 L230.20,236.01 L230.70,235.94 L231.20,236.45 L231.70,236.48 L232.20,236.34 L232.70,236.27 L233.20,236.32 L233.70,236.58 L234.20,236.46 L234.70,236.65 L235.20,236.67 L235.70,236.79 L236.20,236.76 L236.70,236.55 L237.20,236.11 L237.70,236.41 L238.20,236.68 L238.70,236.57 L239.20,236.54 L239.70,236.28 L240.20,236.10 L240.70,235.85 L241.20,236.09 L241.70,235.83 L242.20,235.37 L242.70,234.65 L243.20,233.75 L243.70,232.72 L244.20,231.02 L244.70,228.54 L245.20,226.10 L245.70,222.53 L246.20,217.16 L246.70,212.39 L247.20,207.98 L247.70,205.60 L248.20,207.79 L248.70,211.82 L249.20,216.09 L249.70,220.50 L250.20,224.97 L250.70,227.15 L251.20,228.59 L251.70,229.75 L252.20,230.18 L252.70,230.77 L253.20,231.38 L253.70,231.84 L254.20,232.05 L254.70,232.43 L255.20,232.99 L255.70,233.31 L256.20,233.09 L256.70,232.71 L257.20,232.24 L257.70,231.84 L258.20,230.85 L258.70,229.78 L259.20,228.92 L259.70,226.76 L260.20,224.13 L260.70,222.18 L261.20,220.25 L261.70,218.58 L262.20,219.12 L262.70,220.71 L263.20,222.97 L263.70,224.30 L264.20,225.81 L264.70,227.57 L265.20,228.29 L265.70,228.18 L266.20,228.05 L266.70,228.04 L267.20,227.81 L267.70,227.69 L268.20,228.37 L268.70,229.17 L269.20,230.27 L269.70,231.18 L270.20,232.32 L270.70,233.17 L271.20,233.84 L271.70,234.06 L272.20,234.35 L272.70,234.94 L273.20,235.13 L273.70,235.60 L274.20,235.93 L274.70,235.82 L275.20,235.92 L275.70,235.92 L276.20,236.00 L276.70,235.87 L277.20,234.89 L277.70,234.17 L278.20,232.94 L278.70,232.50 L279.20,232.32 L279.70,232.41 L280.20,233.42 L280.70,233.89 L281.20,234.52 L281.70,235.21 L282.20,235.41 L282.70,236.02 L283.20,236.25 L283.70,235.49 L284.20,234.78 L284.70,234.57 L285.20,233.99 L285.70,232.97 L286.20,232.19 L286.70,231.35 L287.20,230.33 L287.70,229.25 L288.20,227.97 L288.70,227.20 L289.20,226.27 L289.70,225.65 L290.20,226.27 L290.70,227.62 L291.20,228.65 L291.70,229.08 L292.20,230.19 L292.70,230.77 L293.20,231.13 L293.70,230.95 L294.20,230.91 L294.70,230.91 L295.20,231.30 L295.70,231.33 L296.20,231.35 L296.70,231.71 L297.20,231.93 L297.70,232.32 L298.20,232.65 L298.70,232.96 L299.20,233.60 L299.70,233.54 L300.20,233.66 L300.70,233.76 L301.20,233.85 L301.70,233.33 L302.20,233.01 L302.70,232.98 L303.20,233.12 L303.70,233.23 L304.20,233.38 L304.70,233.60 L305.20,234.12 L305.70,234.58 L306.20,234.56 L306.70,234.56 L307.20,234.67 L307.70,234.45 L308.20,234.42 L308.70,234.37 L309.20,234.35 L309.70,234.19 L310.20,233.81 L310.70,234.13 L311.20,234.48 L311.70,234.30 L312.20,234.53 L312.70,234.85 L313.20,235.24 L313.70,235.06 L314.20,235.66 L314.70,235.63 L315.20,235.94 L315.70,235.96 L316.20,235.87 L316.70,235.93 L317.20,236.17 L317.70,235.90 L318.20,235.86 L318.70,235.87 L319.20,235.62 L319.70,236.12 L320.20,236.22 L320.70,236.04 L321.20,236.23 L321.70,235.90 L322.20,235.91 L322.70,236.34 L323.20,236.33 L323.70,235.63 L324.20,235.16 L324.70,235.53 L325.20,236.13 L325.70,235.99 L326.20,235.91 L326.70,236.00 L327.20,235.60 L327.70,235.47 L328.20,235.41 L328.70,235.12 L329.20,234.81 L329.70,234.28 L330.20,234.05 L330.70,233.56 L331.20,233.45 L331.70,233.47 L332.20,232.54 L332.70,231.61 L333.20,231.51 L333.70,231.53 L334.20,231.45 L334.70,231.26 L335.20,230.74 L335.70,230.59 L336.20,231.09 L336.70,230.92 L337.20,231.33 L337.70,231.41 L338.20,231.67 L338.70,231.92 L339.20,232.14 L339.70,232.38 L340.20,232.28 L340.70,232.70 L341.20,233.09 L341.70,233.47 L342.20,234.00 L342.70,234.14 L343.20,234.26 L343.70,234.39 L344.20,234.47 L344.70,234.70 L345.20,234.45 L345.70,234.68 L346.20,234.62 L346.70,234.40 L347.20,234.09 L347.70,234.25 L348.20,234.37 L348.70,233.80 L349.20,234.09 L349.70,234.33 L350.20,234.03 L350.70,233.93 L351.20,234.36 L351.70,234.40 L352.20,234.05 L352.70,234.24 L353.20,234.42 L353.70,234.57 L354.20,234.29 L354.70,234.88 L355.20,234.93 L355.70,234.96 L356.20,234.84 L356.70,234.83 L357.20,234.48 L357.70,234.11 L358.20,234.11 L358.70,234.21 L359.20,233.85 L359.70,234.16 L360.20,234.35 L360.70,234.44 L361.20,235.11 L361.70,235.04 L362.20,235.44 L362.70,235.50 L363.20,235.76 L363.70,235.66 L364.20,235.71 L364.70,236.15 L365.20,236.11 L365.70,235.98 L366.20,235.84 L366.70,235.93 L367.20,235.58 L367.70,235.42 L368.20,235.58 L368.70,235.46 L369.20,235.37 L369.70,235.44 L370.20,235.41 L370.70,235.31 L371.20,235.60 L371.70,235.54 L372.20,235.44 L372.70,235.11 L373.20,234.82 L373.70,234.49 L374.20,234.52 L374.70,234.15" fill="none" stroke="#b2979c" stroke-width="0.9" stroke-linejoin="round"/>
<path d="M42.70,284.90 L43.20,285.02 L43.70,285.54 L44.20,285.59 L44.70,285.15 L45.20,285.39 L45.70,285.49 L46.20,285.69 L46.70,285.49 L47.20,285.80 L47.70,286.02 L48.20,286.36 L48.70,286.29 L49.20,286.30 L49.70,285.98 L50.20,286.64 L50.70,286.17 L51.20,286.51 L51.70,286.52 L52.20,286.35 L52.70,286.41 L53.20,286.47 L53.70,286.73 L54.20,286.75 L54.70,287.07 L55.20,286.56 L55.70,286.69 L56.20,286.68 L56.70,286.96 L57.20,286.53 L57.70,286.67 L58.20,286.94 L58.70,286.67 L59.20,287.04 L59.70,287.10 L60.20,287.23 L60.70,287.31 L61.20,286.96 L61.70,286.88 L62.20,287.06 L62.70,287.34 L63.20,287.48 L63.70,287.22 L64.20,287.15 L64.70,287.15 L65.20,287.20 L65.70,287.30 L66.20,287.35 L66.70,287.79 L67.20,287.43 L67.70,287.23 L68.20,287.34 L68.70,287.06 L69.20,286.99 L69.70,287.03 L70.20,287.10 L70.70,286.48 L71.20,286.44 L71.70,285.78 L72.20,285.13 L72.70,284.33 L73.20,282.88 L73.70,282.00 L74.20,282.27 L74.70,283.49 L75.20,284.88 L75.70,285.49 L76.20,286.64 L76.70,287.12 L77.20,287.34 L77.70,288.16 L78.20,288.11 L78.70,287.83 L79.20,288.44 L79.70,288.33 L80.20,288.49 L80.70,288.27 L81.20,288.26 L81.70,288.04 L82.20,287.88 L82.70,288.05 L83.20,288.29 L83.70,288.52 L84.20,288.89 L84.70,288.29 L85.20,288.39 L85.70,288.19 L86.20,288.09 L86.70,287.72 L87.20,287.40 L87.70,287.28 L88.20,286.96 L88.70,286.72 L89.20,286.59 L89.70,287.22 L90.20,287.55 L90.70,287.73 L91.20,288.15 L91.70,288.31 L92.20,288.32 L92.70,288.36 L93.20,288.35 L93.70,288.43 L94.20,288.21 L94.70,287.80 L95.20,287.38 L95.70,286.97 L96.20,287.39 L96.70,287.56 L97.20,288.24 L97.70,288.41 L98.20,288.50 L98.70,288.75 L99.20,288.77 L99.70,288.74 L100.20,289.02 L100.70,288.91 L101.20,288.59 L101.70,288.75 L102.20,288.39 L102.70,288.83 L103.20,288.65 L103.70,288.24 L104.20,288.19 L104.70,287.74 L105.20,286.32 L105.70,284.95 L106.20,284.88 L106.70,285.97 L107.20,286.80 L107.70,287.38 L108.20,288.20 L108.70,288.59 L109.20,288.92 L109.70,288.98 L110.20,288.59 L110.70,288.44 L111.20,288.01 L111.70,288.22 L112.20,288.53 L112.70,287.48 L113.20,286.67 L113.70,285.55 L114.20,283.76 L114.70,281.66 L115.20,280.02 L115.70,278.62 L116.20,277.90 L116.70,278.28 L117.20,279.13 L117.70,279.31 L118.20,278.26 L118.70,277.70 L119.20,277.73 L119.70,279.21 L120.20,281.06 L120.70,282.66 L121.20,284.38 L121.70,285.95 L122.20,286.70 L122.70,287.26 L123.20,287.88 L123.70,288.58 L124.20,288.75 L124.70,289.22 L125.20,289.16 L125.70,288.48 L126.20,288.81 L126.70,289.50 L127.20,289.39 L127.70,289.20 L128.20,289.10 L128.70,289.52 L129.20,289.65 L129.70,289.58 L130.20,289.52 L130.70,289.72 L131.20,289.69 L131.70,289.24 L132.20,289.49 L132.70,289.54 L133.20,289.45 L133.70,289.61 L134.20,289.54 L134.70,288.89 L135.20,289.56 L135.70,289.82 L136.20,289.55 L136.70,289.41 L137.20,289.51 L137.70,289.26 L138.20,289.46 L138.70,289.48 L139.20,289.41 L139.70,289.28 L140.20,289.28 L140.70,289.65 L141.20,289.84 L141.70,289.68 L142.20,289.50 L142.70,289.28 L143.20,289.52 L143.70,289.81 L144.20,289.23 L144.70,289.51 L145.20,289.05 L145.70,289.11 L146.20,289.33 L146.70,288.94 L147.20,288.64 L147.70,288.82 L148.20,288.89 L148.70,288.23 L149.20,287.81 L149.70,286.74 L150.20,286.26 L150.70,285.33 L151.20,284.19 L151.70,283.14 L152.20,282.09 L152.70,281.72 L153.20,281.81 L153.70,281.69 L154.20,281.59 L154.70,281.08 L155.20,279.77 L155.70,278.28 L156.20,276.97 L156.70,275.57 L157.20,274.73 L157.70,275.38 L158.20,276.83 L158.70,278.69 L159.20,281.02 L159.70,283.17 L160.20,284.67 L160.70,286.13 L161.20,286.82 L161.70,287.53 L162.20,287.85 L162.70,288.68 L163.20,289.08 L163.70,289.47 L164.20,289.53 L164.70,289.37 L165.20,289.33 L165.70,289.54 L166.20,289.34 L166.70,289.22 L167.20,289.24 L167.70,289.39 L168.20,289.43 L168.70,289.45 L169.20,288.81 L169.70,288.51 L170.20,287.77 L170.70,287.11 L171.20,286.23 L171.70,285.71 L172.20,284.74 L172.70,283.72 L173.20,283.77 L173.70,284.50 L174.20,285.30 L174.70,286.00 L175.20,286.61 L175.70,287.92 L176.20,287.96 L176.70,287.21 L177.20,285.12 L177.70,282.65 L178.20,278.86 L178.70,273.66 L179.20,266.51 L179.70,258.25 L180.20,249.58 L180.70,244.54 L181.20,243.60 L181.70,249.88 L182.20,257.46 L182.70,261.51 L183.20,254.94 L183.70,248.31 L184.20,242.44 L184.70,244.44 L185.20,250.24 L185.70,255.91 L186.20,262.22 L186.70,267.56 L187.20,272.40 L187.70,276.58 L188.20,280.34 L188.70,282.81 L189.20,282.45 L189.70,281.51 L190.20,280.57 L190.70,279.96 L191.20,280.54 L191.70,281.36 L192.20,283.07 L192.70,283.78 L193.20,282.85 L193.70,280.81 L194.20,278.54 L194.70,274.98 L195.20,270.61 L195.70,267.29 L196.20,263.87 L196.70,261.12 L197.20,261.06 L197.70,263.84 L198.20,267.45 L198.70,272.43 L199.20,277.33 L199.70,280.63 L200.20,282.12 L200.70,280.12 L201.20,276.30 L201.70,271.27 L202.20,264.37 L202.70,258.70 L203.20,253.97 L203.70,250.43 L204.20,248.51 L204.70,250.04 L205.20,253.17 L205.70,257.54 L206.20,255.46 L206.70,250.45 L207.20,245.95 L207.70,241.55 L208.20,241.75 L208.70,247.72 L209.20,254.92 L209.70,263.53 L210.20,271.14 L210.70,277.71 L211.20,281.93 L211.70,285.02 L212.20,285.23 L212.70,285.20 L213.20,285.53 L213.70,285.38 L214.20,285.27 L214.70,285.45 L215.20,285.18 L215.70,284.95 L216.20,284.63 L216.70,283.97 L217.20,282.05 L217.70,279.49 L218.20,276.42 L218.70,272.86 L219.20,271.63 L219.70,273.21 L220.20,276.16 L220.70,278.91 L221.20,280.88 L221.70,283.42 L222.20,284.60 L222.70,284.31 L223.20,283.83 L223.70,282.93 L224.20,282.12 L224.70,281.46 L225.20,281.30 L225.70,283.17 L226.20,284.59 L226.70,285.61 L227.20,286.84 L227.70,287.04 L228.20,288.01 L228.70,288.60 L229.20,288.64 L229.70,289.05 L230.20,288.85 L230.70,289.21 L231.20,289.67 L231.70,289.21 L232.20,289.18 L232.70,289.53 L233.20,289.67 L233.70,289.55 L234.20,289.69 L234.70,289.74 L235.20,289.40 L235.70,289.51 L236.20,289.36 L236.70,289.09 L237.20,288.94 L237.70,289.58 L238.20,289.60 L238.70,289.88 L239.20,289.27 L239.70,289.09 L240.20,289.15 L240.70,288.90 L241.20,288.72 L241.70,288.29 L242.20,286.87 L242.70,284.77 L243.20,283.16 L243.70,281.56 L244.20,278.08 L244.70,273.27 L245.20,268.45 L245.70,264.22 L246.20,260.45 L246.70,259.56 L247.20,262.11 L247.70,266.32 L248.20,270.18 L248.70,273.34 L249.20,276.81 L249.70,278.94 L250.20,280.83 L250.70,281.97 L251.20,282.91 L251.70,283.81 L252.20,284.94 L252.70,285.47 L253.20,285.79 L253.70,285.88 L254.20,286.12 L254.70,285.97 L255.20,285.88 L255.70,285.94 L256.20,286.03 L256.70,285.70 L257.20,285.70 L257.70,285.77 L258.20,283.93 L258.70,281.75 L259.20,279.51 L259.70,275.99 L260.20,272.82 L260.70,271.04 L261.20,272.44 L261.70,275.05 L262.20,277.50 L262.70,279.24 L263.20,281.00 L263.70,282.08 L264.20,282.03 L264.70,281.83 L265.20,281.67 L265.70,281.31 L266.20,281.34 L266.70,281.86 L267.20,282.12 L267.70,283.39 L268.20,284.36 L268.70,284.95 L269.20,285.58 L269.70,286.38 L270.20,287.10 L270.70,287.89 L271.20,288.07 L271.70,288.64 L272.20,288.62 L272.70,288.93 L273.20,289.26 L273.70,288.93 L274.20,289.26 L274.70,289.67 L275.20,288.75 L275.70,287.89 L276.20,286.99 L276.70,286.09 L277.20,285.16 L277.70,284.66 L278.20,285.20 L278.70,286.06 L279.20,286.69 L279.70,287.48 L280.20,288.02 L280.70,288.42 L281.20,288.57 L281.70,289.39 L282.20,289.80 L282.70,289.24 L283.20,289.16 L283.70,288.99 L284.20,288.65 L284.70,288.01 L285.20,286.88 L285.70,285.74 L286.20,284.63 L286.70,283.16 L287.20,282.13 L287.70,280.92 L288.20,280.16 L288.70,280.09 L289.20,280.62 L289.70,281.65 L290.20,282.76 L290.70,283.78 L291.20,284.41 L291.70,284.76 L292.20,284.26 L292.70,283.48 L293.20,283.10 L293.70,282.95 L294.20,283.09 L294.70,283.79 L295.20,284.31 L295.70,284.85 L296.20,285.24 L296.70,285.51 L297.20,286.05 L297.70,286.03 L298.20,285.99 L298.70,285.67 L299.20,285.66 L299.70,285.52 L300.20,285.51 L300.70,285.80 L301.20,286.11 L301.70,286.18 L302.20,286.28 L302.70,286.77 L303.20,287.03 L303.70,287.14 L304.20,287.51 L304.70,287.78 L305.20,287.85 L305.70,288.20 L306.20,287.84 L306.70,287.50 L307.20,287.58 L307.70,287.32 L308.20,287.19 L308.70,287.40 L309.20,287.95 L309.70,288.33 L310.20,288.56 L310.70,288.61 L311.20,288.67 L311.70,289.22 L312.20,289.11 L312.70,289.35 L313.20,289.36 L313.70,289.51 L314.20,289.64 L314.70,289.94 L315.20,289.23 L315.70,289.75 L316.20,289.64 L316.70,289.69 L317.20,289.89 L317.70,289.62 L318.20,289.63 L318.70,289.80 L319.20,289.72 L319.70,289.55 L320.20,289.69 L320.70,289.74 L321.20,289.42 L321.70,289.86 L322.20,289.86 L322.70,289.24 L323.20,289.35 L323.70,289.99 L324.20,290.16 L324.70,289.89 L325.20,289.29 L325.70,289.20 L326.20,289.29 L326.70,288.95 L327.20,288.46 L327.70,287.99 L328.20,287.90 L328.70,287.43 L329.20,287.06 L329.70,286.71 L330.20,286.48 L330.70,285.82 L331.20,285.29 L331.70,284.54 L332.20,284.60 L332.70,284.46 L333.20,284.01 L333.70,283.36 L334.20,283.53 L334.70,283.83 L335.20,284.33 L335.70,284.26 L336.20,284.24 L336.70,284.35 L337.20,284.55 L337.70,284.23 L338.20,284.24 L338.70,284.40 L339.20,284.94 L339.70,285.50 L340.20,286.11 L340.70,286.41 L341.20,287.12 L341.70,287.55 L342.20,288.35 L342.70,288.07 L343.20,288.46 L343.70,288.50 L344.20,287.84 L344.70,288.01 L345.20,288.07 L345.70,287.58 L346.20,287.79 L346.70,287.73 L347.20,287.64 L347.70,287.31 L348.20,287.25 L348.70,287.32 L349.20,287.20 L349.70,287.13 L350.20,287.32 L350.70,287.38 L351.20,287.77 L351.70,287.44 L352.20,288.10 L352.70,288.12 L353.20,288.00 L353.70,287.99 L354.20,287.45 L354.70,287.84 L355.20,287.31 L355.70,287.18 L356.20,287.08 L356.70,287.09 L357.20,286.76 L357.70,286.32 L358.20,286.66 L358.70,286.50 L359.20,287.07 L359.70,287.53 L360.20,288.19 L360.70,288.27 L361.20,288.40 L361.70,288.61 L362.20,288.80 L362.70,289.00 L363.20,289.28 L363.70,288.98 L364.20,289.02 L364.70,288.83 L365.20,288.94 L365.70,289.07 L366.20,288.76 L366.70,288.73 L367.20,288.86 L367.70,289.00 L368.20,289.03 L368.70,288.77 L369.20,288.44 L369.70,288.17 L370.20,288.53 L370.70,288.78 L371.20,288.56 L371.70,288.66 L372.20,288.29 L372.70,288.09 L373.20,288.43 L373.70,288.02 L374.20,288.09 L374.70,288.13" fill="none" stroke="#858585" stroke-width="0.9" stroke-linejoin="round"/>
<g stroke="#303030" stroke-width="1.3" fill="none">
<path d="M42.8,27.9 V293.7 H375.3"/>
<path d="M37.4,27.90 H42.8"/>
<path d="M37.4,160.80 H42.8"/>
<path d="M37.4,293.70 H42.8"/>
<path d="M42.75,293.7 V298.70"/>
<path d="M70.42,293.7 V296.70"/>
<path d="M98.08,293.7 V298.70"/>
<path d="M125.75,293.7 V296.70"/>
<path d="M153.42,293.7 V298.70"/>
<path d="M181.08,293.7 V296.70"/>
<path d="M208.75,293.7 V298.70"/>
<path d="M236.42,293.7 V296.70"/>
<path d="M264.08,293.7 V298.70"/>
<path d="M291.75,293.7 V296.70"/>
<path d="M319.42,293.7 V298.70"/>
<path d="M347.08,293.7 V296.70"/>
<path d="M374.75,293.7 V298.70"/>
</g>
<g font-size="11.3" fill="#262626" text-anchor="middle">
<text x="42.8" y="311.1">5</text>
<text x="98.1" y="311.1">10</text>
<text x="153.4" y="311.1">15</text>
<text x="208.8" y="311.1">20</text>
<text x="264.1" y="311.1">25</text>
<text x="319.4" y="311.1">30</text>
<text x="374.8" y="311.1">35</text>
</g>
<text x="208.8" y="328.7" font-size="13.95" fill="#262626" text-anchor="middle">Two theta (degree)</text>
<text transform="translate(26.1,154.3) rotate(-90)" font-size="13.8" fill="#262626" text-anchor="middle">Normalized intensity</text>
<text x="206.9" y="23" font-size="16" fill="#262626" text-anchor="middle">(a)</text>
<text x="274.7" y="45.8" font-size="15.2" fill="#c6b8d4">Calculated</text>
<text x="275.2" y="101.6" font-size="15.6" fill="#90bfb1">Tablet A3</text>
<text x="275.2" y="152.4" font-size="15.5" fill="#4b7a9c">Tablet A1</text>
<text x="274.2" y="209.6" font-size="15.4" fill="#a0495a">Powder A3</text>
<text x="274.2" y="267.4" font-size="15.3" fill="#222222">Powder A1</text>
</g>
<g id="panel-b">
<g stroke="#303030" stroke-width="1.3" fill="none">
<path d="M427.8,25.4 V299.20 M427.8,297.2 H761.2"/>
<path d="M422.50,25.40 H427.8"/>
<path d="M424.90,52.58 H427.8"/>
<path d="M422.50,79.76 H427.8"/>
<path d="M424.90,106.94 H427.8"/>
<path d="M422.50,134.12 H427.8"/>
<path d="M424.90,161.30 H427.8"/>
<path d="M422.50,188.48 H427.8"/>
<path d="M424.90,215.66 H427.8"/>
<path d="M422.50,242.84 H427.8"/>
<path d="M424.90,270.02 H427.8"/>
<path d="M422.50,297.20 H427.8"/>
<path d="M511.00,297.2 V301.80"/>
<path d="M594.10,297.2 V300.20"/>
<path d="M677.20,297.2 V301.80"/>
<path d="M760.60,297.2 V300.20"/>
</g>
<rect x="444.60" y="81.50" width="132.20" height="216.30" fill="#0606f6" stroke="#0a0aa4" stroke-width="1"/>
<rect x="610.50" y="135.40" width="133.10" height="162.40" fill="#0606f6" stroke="#0a0aa4" stroke-width="1"/>
<g stroke="#999999" stroke-width="1.1" fill="none">
<path d="M511,81.2 V67.5 M507.8,67.5 H514.2"/>
<path d="M676.8,135.1 V131.3 M673.5999999999999,131.3 H680.0"/>
</g>
<g font-size="11.3" fill="#262626" text-anchor="end">
<text x="419.2" y="28.9">2.5</text>
<text x="419.2" y="83.3">2.0</text>
<text x="419.2" y="137.7">1.5</text>
<text x="419.2" y="192.0">1.0</text>
<text x="419.2" y="246.4">0.5</text>
<text x="419.2" y="300.8">0.0</text>
</g>
<g font-size="10.8" fill="#262626" text-anchor="middle">
<text x="510.4" y="315.2">A1</text>
<text x="676.6" y="315.2">A3</text>
</g>
<text x="595.2" y="23.5" font-size="16" fill="#262626" text-anchor="middle">(b)</text>
<text transform="translate(397.8,161.2) rotate(-90)" font-size="13.8" fill="#262626" text-anchor="middle">Flowability index</text>
</g>
<g id="panel-c">
<g stroke="#303030" stroke-width="1.3" fill="none">
<path d="M59.4,349.3 V623.05 M59.4,621.05 H387.2"/>
<path d="M54.10,349.30 H59.4"/>
<path d="M56.50,371.95 H59.4"/>
<path d="M54.10,394.59 H59.4"/>
<path d="M56.50,417.24 H59.4"/>
<path d="M54.10,439.88 H59.4"/>
<path d="M56.50,462.53 H59.4"/>
<path d="M54.10,485.17 H59.4"/>
<path d="M56.50,507.82 H59.4"/>
<path d="M54.10,530.47 H59.4"/>
<path d="M56.50,553.11 H59.4"/>
<path d="M54.10,575.76 H59.4"/>
<path d="M56.50,598.40 H59.4"/>
<path d="M54.10,621.05 H59.4"/>
<path d="M143.60,621.05 V625.65"/>
<path d="M227.90,621.05 V624.05"/>
<path d="M312.10,621.05 V625.65"/>
</g>
<rect x="76.40" y="393.50" width="134.40" height="228.15" fill="#0606f6" stroke="#0a0aa4" stroke-width="1"/>
<rect x="245.10" y="385.20" width="134.50" height="236.45" fill="#0606f6" stroke="#0a0aa4" stroke-width="1"/>
<g stroke="#a2a2a2" stroke-width="1.1" fill="none">
<path d="M143.6,393.2 V381.0 M140.4,381.0 H146.79999999999998"/>
<path d="M312.0,384.9 V358.8 M308.8,358.8 H315.2"/>
</g>
<g font-size="11.3" fill="#262626" text-anchor="end">
<text x="50.4" y="352.9">300</text>
<text x="50.4" y="398.1">280</text>
<text x="50.4" y="443.4">260</text>
<text x="50.4" y="488.7">240</text>
<text x="50.4" y="534.0">220</text>
<text x="50.4" y="579.3">200</text>
<text x="50.4" y="624.6">180</text>
</g>
<g font-size="10.8" fill="#262626" text-anchor="middle">
<text x="143.1" y="638.8">A1</text>
<text x="311.6" y="638.8">A3</text>
</g>
<text x="206.4" y="354.0" font-size="16" fill="#262626" text-anchor="middle">(c)</text>
<text transform="translate(25.8,484.8) rotate(-90)" font-size="14.4" fill="#262626" text-anchor="middle">IDR (µg cm<tspan font-size="9.4" dy="-5.8" dx="1.0" letter-spacing="0.9">-2</tspan><tspan dy="5.8" dx="0.2"> min</tspan><tspan font-size="9.4" dy="-5.8" dx="1.0" letter-spacing="0.9">-1</tspan><tspan dy="5.8" dx="0.3">)</tspan></text>
</g>
<g id="panel-d">
<g stroke="#303030" stroke-width="1.3" fill="none">
<path d="M430.3,343.5 V621.95 M430.3,619.95 H775.6"/>
<path d="M425.00,343.50 H430.3"/>
<path d="M427.40,363.25 H430.3"/>
<path d="M425.00,382.99 H430.3"/>
<path d="M427.40,402.74 H430.3"/>
<path d="M425.00,422.49 H430.3"/>
<path d="M427.40,442.23 H430.3"/>
<path d="M425.00,461.98 H430.3"/>
<path d="M427.40,481.73 H430.3"/>
<path d="M425.00,501.47 H430.3"/>
<path d="M427.40,521.22 H430.3"/>
<path d="M425.00,540.96 H430.3"/>
<path d="M427.40,560.71 H430.3"/>
<path d="M425.00,580.46 H430.3"/>
<path d="M427.40,600.20 H430.3"/>
<path d="M425.00,619.95 H430.3"/>
<path d="M516.60,619.95 V624.55"/>
<path d="M602.70,619.95 V622.95"/>
<path d="M688.80,619.95 V624.55"/>
<path d="M774.80,619.95 V622.95"/>
</g>
<rect x="447.60" y="405.90" width="137.50" height="214.65" fill="#0606f6" stroke="#0a0aa4" stroke-width="1"/>
<rect x="619.90" y="411.50" width="137.70" height="209.05" fill="#0606f6" stroke="#0a0aa4" stroke-width="1"/>
<g stroke="#3c3c3c" stroke-width="0.85" fill="none">
<path d="M516.5,405.59999999999997 V377.4 M513.3,377.4 H519.7"/>
<path d="M688.6,411.2 V391.4 M685.4,391.4 H691.8000000000001"/>
</g>
<g font-size="11.3" fill="#262626" text-anchor="end">
<text x="421.3" y="347.1">85</text>
<text x="421.3" y="386.5">80</text>
<text x="421.3" y="426.0">75</text>
<text x="421.3" y="465.5">70</text>
<text x="421.3" y="505.0">65</text>
<text x="421.3" y="544.5">60</text>
<text x="421.3" y="584.0">55</text>
<text x="421.3" y="623.5">50</text>
</g>
<g font-size="10.8" fill="#262626" text-anchor="middle">
<text x="516.2" y="638.0">A1</text>
<text x="688.3" y="638.0">A3</text>
</g>
<text x="595.2" y="354.6" font-size="16" fill="#262626" text-anchor="middle">(d)</text>
<text transform="translate(401.8,477) rotate(-90)" font-size="13.8" fill="#262626" text-anchor="middle">Contact angle (degree)</text>
</g>
</svg>
</body></html>
